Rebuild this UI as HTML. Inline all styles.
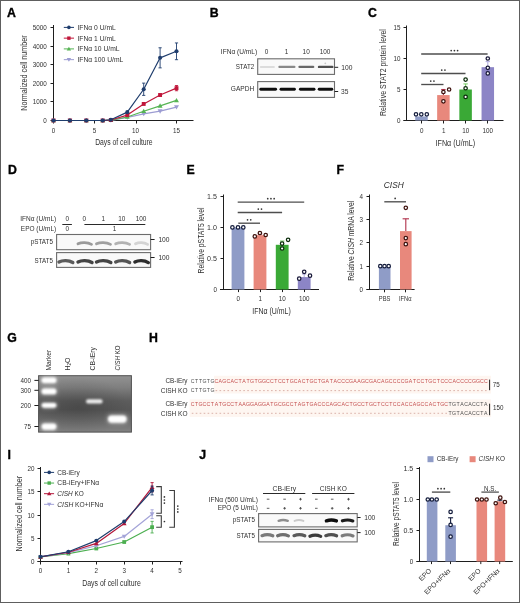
<!DOCTYPE html>
<html><head><meta charset="utf-8"><title>Figure</title>
<style>
html,body{margin:0;padding:0;background:#fff;width:520px;height:603px;overflow:hidden;}
svg{display:block;font-family:"Liberation Sans", sans-serif;filter:blur(0.3px);}
</style></head><body>
<svg width="520" height="603" viewBox="0 0 520 603" font-family='"Liberation Sans", sans-serif'>
<defs><filter id="bl5" filterUnits="userSpaceOnUse" x="0" y="0" width="520" height="603"><feGaussianBlur stdDeviation="0.5"/></filter><filter id="bl7" filterUnits="userSpaceOnUse" x="0" y="0" width="520" height="603"><feGaussianBlur stdDeviation="0.7"/></filter><linearGradient id="gelv" x1="0" y1="0" x2="0" y2="1">
<stop offset="0" stop-color="#929292"/><stop offset="0.2" stop-color="#808080"/>
<stop offset="0.45" stop-color="#5c5c5c"/><stop offset="0.6" stop-color="#575757"/>
<stop offset="0.8" stop-color="#6c6c6c"/><stop offset="1" stop-color="#828282"/></linearGradient>
<radialGradient id="gelr" cx="0.42" cy="0.55" r="0.55">
<stop offset="0" stop-color="#000" stop-opacity="0.16"/><stop offset="1" stop-color="#000" stop-opacity="0"/></radialGradient>
<filter id="blg" x="-30%" y="-80%" width="160%" height="260%"><feGaussianBlur stdDeviation="0.8"/></filter>
<filter id="blg2" x="-50%" y="-150%" width="200%" height="400%"><feGaussianBlur stdDeviation="2.2"/></filter></defs>
<rect x="0.5" y="0.5" width="519" height="602" fill="#fff" stroke="#5e5e5e" stroke-width="1" />
<text x="7.1" y="17.10" font-size="12.3" fill="#000" font-weight="bold" stroke="#000" stroke-width="0.35">A</text>
<line x1="53.5" y1="25.0" x2="53.5" y2="123.5" stroke="#1e1e1e" stroke-width="1.0" />
<line x1="50.5" y1="120.5" x2="53.5" y2="120.5" stroke="#1e1e1e" stroke-width="1.0" />
<text x="46.8" y="122.60" font-size="6.7" fill="#303030" text-anchor="end" textLength="3.5" lengthAdjust="spacingAndGlyphs" >0</text>
<line x1="50.5" y1="101.5" x2="53.5" y2="101.5" stroke="#1e1e1e" stroke-width="1.0" />
<text x="46.8" y="103.60" font-size="6.7" fill="#303030" text-anchor="end" textLength="14.01" lengthAdjust="spacingAndGlyphs" >1000</text>
<line x1="50.5" y1="83.5" x2="53.5" y2="83.5" stroke="#1e1e1e" stroke-width="1.0" />
<text x="46.8" y="85.60" font-size="6.7" fill="#303030" text-anchor="end" textLength="14.01" lengthAdjust="spacingAndGlyphs" >2000</text>
<line x1="50.5" y1="64.5" x2="53.5" y2="64.5" stroke="#1e1e1e" stroke-width="1.0" />
<text x="46.8" y="66.60" font-size="6.7" fill="#303030" text-anchor="end" textLength="14.01" lengthAdjust="spacingAndGlyphs" >3000</text>
<line x1="50.5" y1="46.5" x2="53.5" y2="46.5" stroke="#1e1e1e" stroke-width="1.0" />
<text x="46.8" y="48.60" font-size="6.7" fill="#303030" text-anchor="end" textLength="14.01" lengthAdjust="spacingAndGlyphs" >4000</text>
<line x1="50.5" y1="27.5" x2="53.5" y2="27.5" stroke="#1e1e1e" stroke-width="1.0" />
<text x="46.8" y="29.60" font-size="6.7" fill="#303030" text-anchor="end" textLength="14.01" lengthAdjust="spacingAndGlyphs" >5000</text>
<line x1="51.0" y1="120.5" x2="193.5" y2="120.5" stroke="#1e1e1e" stroke-width="1.0" />
<line x1="94.5" y1="120.5" x2="94.5" y2="123.5" stroke="#1e1e1e" stroke-width="1" />
<line x1="136.5" y1="120.5" x2="136.5" y2="123.5" stroke="#1e1e1e" stroke-width="1" />
<line x1="176.5" y1="120.5" x2="176.5" y2="123.5" stroke="#1e1e1e" stroke-width="1" />
<text x="53.5" y="133.00" font-size="6.7" fill="#303030" text-anchor="middle" textLength="3.5" lengthAdjust="spacingAndGlyphs" >0</text>
<text x="94.5" y="133.00" font-size="6.7" fill="#303030" text-anchor="middle" textLength="3.5" lengthAdjust="spacingAndGlyphs" >5</text>
<text x="135.5" y="133.00" font-size="6.7" fill="#303030" text-anchor="middle" textLength="7.0" lengthAdjust="spacingAndGlyphs" >10</text>
<text x="176.5" y="133.00" font-size="6.7" fill="#303030" text-anchor="middle" textLength="7.0" lengthAdjust="spacingAndGlyphs" >15</text>
<text x="123.9" y="144.94" font-size="8.5" fill="#303030" text-anchor="middle" textLength="57.5" lengthAdjust="spacingAndGlyphs" >Days of cell culture</text>
<text transform="translate(24.4,73.0) rotate(-90)" x="0" y="3.04" font-size="8.5" fill="#303030" text-anchor="middle" textLength="75.5" lengthAdjust="spacingAndGlyphs" >Normalized cell number</text>
<polyline points="53.50,120.50 69.90,120.50 86.30,120.50 102.70,120.50 110.90,120.31 127.30,117.52 143.70,113.80 160.10,111.20 176.50,107.11" fill="none" stroke="#9c9cd2" stroke-width="1.2" stroke-linejoin="round"/>
<polygon points="51.02,118.64 55.98,118.64 53.50,122.98" fill="#9c9cd2"/>
<polygon points="67.42,118.64 72.38,118.64 69.90,122.98" fill="#9c9cd2"/>
<polygon points="83.82,118.64 88.78,118.64 86.30,122.98" fill="#9c9cd2"/>
<polygon points="100.22,118.64 105.18,118.64 102.70,122.98" fill="#9c9cd2"/>
<polygon points="108.42,118.45 113.38,118.45 110.90,122.80" fill="#9c9cd2"/>
<polygon points="124.82,115.66 129.78,115.66 127.30,120.01" fill="#9c9cd2"/>
<polygon points="141.22,111.94 146.18,111.94 143.70,116.29" fill="#9c9cd2"/>
<polygon points="157.62,109.34 162.58,109.34 160.10,113.68" fill="#9c9cd2"/>
<polygon points="174.02,105.25 178.98,105.25 176.50,109.59" fill="#9c9cd2"/>
<polyline points="53.50,120.50 69.90,120.50 86.30,120.50 102.70,120.50 110.90,120.22 127.30,116.97 143.70,111.20 160.10,105.81 176.50,100.41" fill="none" stroke="#56b454" stroke-width="1.2" stroke-linejoin="round"/>
<polygon points="51.02,122.36 55.98,122.36 53.50,118.02" fill="#56b454"/>
<polygon points="67.42,122.36 72.38,122.36 69.90,118.02" fill="#56b454"/>
<polygon points="83.82,122.36 88.78,122.36 86.30,118.02" fill="#56b454"/>
<polygon points="100.22,122.36 105.18,122.36 102.70,118.02" fill="#56b454"/>
<polygon points="108.42,122.08 113.38,122.08 110.90,117.74" fill="#56b454"/>
<polygon points="124.82,118.83 129.78,118.83 127.30,114.48" fill="#56b454"/>
<polygon points="141.22,113.06 146.18,113.06 143.70,108.72" fill="#56b454"/>
<polygon points="157.62,107.67 162.58,107.67 160.10,103.32" fill="#56b454"/>
<polygon points="174.02,102.28 178.98,102.28 176.50,97.93" fill="#56b454"/>
<polyline points="53.50,120.50 69.90,120.50 86.30,120.50 102.70,120.50 110.90,120.03 127.30,115.11 143.70,103.95 160.10,95.02 176.50,88.14" fill="none" stroke="#c0163a" stroke-width="1.2" stroke-linejoin="round"/>
<line x1="160.1" y1="93.9" x2="160.1" y2="96.13" stroke="#c0163a" stroke-width="0.9" />
<line x1="158.5" y1="93.9" x2="161.7" y2="93.9" stroke="#c0163a" stroke-width="0.9" />
<line x1="158.5" y1="96.13" x2="161.7" y2="96.13" stroke="#c0163a" stroke-width="0.9" />
<line x1="176.5" y1="85.53" x2="176.5" y2="90.74" stroke="#c0163a" stroke-width="0.9" />
<line x1="174.9" y1="85.53" x2="178.1" y2="85.53" stroke="#c0163a" stroke-width="0.9" />
<line x1="174.9" y1="90.74" x2="178.1" y2="90.74" stroke="#c0163a" stroke-width="0.9" />
<rect x="51.56" y="118.56" width="3.89" height="3.89" fill="#c0163a" />
<rect x="67.96" y="118.56" width="3.89" height="3.89" fill="#c0163a" />
<rect x="84.36" y="118.56" width="3.89" height="3.89" fill="#c0163a" />
<rect x="100.76" y="118.56" width="3.89" height="3.89" fill="#c0163a" />
<rect x="108.96" y="118.09" width="3.89" height="3.89" fill="#c0163a" />
<rect x="125.36" y="113.16" width="3.89" height="3.89" fill="#c0163a" />
<rect x="141.76" y="102.0" width="3.89" height="3.89" fill="#c0163a" />
<rect x="158.16" y="93.07" width="3.89" height="3.89" fill="#c0163a" />
<rect x="174.56" y="86.19" width="3.89" height="3.89" fill="#c0163a" />
<polyline points="53.50,120.50 69.90,120.50 86.30,120.50 102.70,120.50 110.90,119.76 127.30,112.13 143.70,89.25 160.10,57.82 176.50,51.31" fill="none" stroke="#1f3d6d" stroke-width="1.2" stroke-linejoin="round"/>
<line x1="143.7" y1="83.11" x2="143.7" y2="95.39" stroke="#1f3d6d" stroke-width="0.9" />
<line x1="142.1" y1="83.11" x2="145.3" y2="83.11" stroke="#1f3d6d" stroke-width="0.9" />
<line x1="142.1" y1="95.39" x2="145.3" y2="95.39" stroke="#1f3d6d" stroke-width="0.9" />
<line x1="160.1" y1="47.77" x2="160.1" y2="67.86" stroke="#1f3d6d" stroke-width="0.9" />
<line x1="158.5" y1="47.77" x2="161.7" y2="47.77" stroke="#1f3d6d" stroke-width="0.9" />
<line x1="158.5" y1="67.86" x2="161.7" y2="67.86" stroke="#1f3d6d" stroke-width="0.9" />
<line x1="176.5" y1="42.94" x2="176.5" y2="59.68" stroke="#1f3d6d" stroke-width="0.9" />
<line x1="174.9" y1="42.94" x2="178.1" y2="42.94" stroke="#1f3d6d" stroke-width="0.9" />
<line x1="174.9" y1="59.68" x2="178.1" y2="59.68" stroke="#1f3d6d" stroke-width="0.9" />
<circle cx="53.50" cy="120.50" r="2.052" fill="#1f3d6d"/>
<circle cx="69.90" cy="120.50" r="2.052" fill="#1f3d6d"/>
<circle cx="86.30" cy="120.50" r="2.052" fill="#1f3d6d"/>
<circle cx="102.70" cy="120.50" r="2.052" fill="#1f3d6d"/>
<circle cx="110.90" cy="119.76" r="2.052" fill="#1f3d6d"/>
<circle cx="127.30" cy="112.13" r="2.052" fill="#1f3d6d"/>
<circle cx="143.70" cy="89.25" r="2.052" fill="#1f3d6d"/>
<circle cx="160.10" cy="57.82" r="2.052" fill="#1f3d6d"/>
<circle cx="176.50" cy="51.31" r="2.052" fill="#1f3d6d"/>
<line x1="63.8" y1="27.4" x2="74" y2="27.4" stroke="#1f3d6d" stroke-width="1.0" />
<circle cx="68.90" cy="27.40" r="1.805" fill="#1f3d6d"/>
<text x="77.5" y="29.76" font-size="6.6" fill="#303030" textLength="38.3" lengthAdjust="spacingAndGlyphs" >IFNα 0 U/mL</text>
<line x1="63.8" y1="38.15" x2="74" y2="38.15" stroke="#c0163a" stroke-width="1.0" />
<rect x="67.19" y="36.44" width="3.42" height="3.42" fill="#c0163a" />
<text x="77.5" y="40.51" font-size="6.6" fill="#303030" textLength="38.3" lengthAdjust="spacingAndGlyphs" >IFNα 1 U/mL</text>
<line x1="63.8" y1="48.9" x2="74" y2="48.9" stroke="#56b454" stroke-width="1.0" />
<polygon points="66.72,50.54 71.09,50.54 68.90,46.71" fill="#56b454"/>
<text x="77.5" y="51.26" font-size="6.6" fill="#303030" textLength="42.05" lengthAdjust="spacingAndGlyphs" >IFNα 10 U/mL</text>
<line x1="63.8" y1="59.65" x2="74" y2="59.65" stroke="#9c9cd2" stroke-width="1.0" />
<polygon points="66.72,58.01 71.09,58.01 68.90,61.84" fill="#9c9cd2"/>
<text x="77.5" y="62.01" font-size="6.6" fill="#303030" textLength="45.79" lengthAdjust="spacingAndGlyphs" >IFNα 100 U/mL</text>
<text x="209.8" y="17.10" font-size="12.3" fill="#000" font-weight="bold" stroke="#000" stroke-width="0.35">B</text>
<text x="257.2" y="53.81" font-size="7.0" fill="#303030" text-anchor="end" textLength="36.4" lengthAdjust="spacingAndGlyphs" >IFNα (U/mL)</text>
<text x="266.6" y="54.01" font-size="7.0" fill="#303030" text-anchor="middle" textLength="3.58" lengthAdjust="spacingAndGlyphs" >0</text>
<text x="286.5" y="54.01" font-size="7.0" fill="#303030" text-anchor="middle" textLength="3.58" lengthAdjust="spacingAndGlyphs" >1</text>
<text x="306.2" y="54.01" font-size="7.0" fill="#303030" text-anchor="middle" textLength="7.16" lengthAdjust="spacingAndGlyphs" >10</text>
<text x="325.0" y="54.01" font-size="7.0" fill="#303030" text-anchor="middle" textLength="10.74" lengthAdjust="spacingAndGlyphs" >100</text>
<text x="254.2" y="69.14" font-size="7.1" fill="#303030" text-anchor="end" textLength="18.5" lengthAdjust="spacingAndGlyphs" >STAT2</text>
<text x="254.2" y="91.14" font-size="7.1" fill="#303030" text-anchor="end" textLength="23.4" lengthAdjust="spacingAndGlyphs" >GAPDH</text>
<rect x="257.7" y="58.8" width="76.8" height="15.6" fill="#f9f9f9" stroke="#6c6c6c" stroke-width="1.1" />
<rect x="257.7" y="81.6" width="76.8" height="15.8" fill="#f9f9f9" stroke="#6c6c6c" stroke-width="1.1" />
<line x1="260.8" y1="66.9" x2="273.9" y2="66.9" stroke="#dcdcdc" stroke-width="2.0" stroke-linecap="round" filter="url(#bl5)"/>
<line x1="279.40000000000003" y1="66.9" x2="294.4" y2="66.9" stroke="#888" stroke-width="2.2" stroke-linecap="round" filter="url(#bl5)"/>
<line x1="299.5" y1="66.9" x2="313.2" y2="66.9" stroke="#686868" stroke-width="2.3" stroke-linecap="round" filter="url(#bl5)"/>
<line x1="319.0" y1="66.9" x2="332.29999999999995" y2="66.9" stroke="#505050" stroke-width="2.4" stroke-linecap="round" filter="url(#bl5)"/>
<circle cx="325.3" cy="63.3" r="0.9" fill="#c8c8c8" filter="url(#bl5)"/>
<line x1="260.8" y1="89.3" x2="275.59999999999997" y2="89.3" stroke="#0a0a0a" stroke-width="2.9" stroke-linecap="round" filter="url(#bl5)"/>
<line x1="281.0" y1="89.3" x2="294.4" y2="89.3" stroke="#0a0a0a" stroke-width="2.9" stroke-linecap="round" filter="url(#bl5)"/>
<line x1="300.40000000000003" y1="89.3" x2="314.0" y2="89.3" stroke="#0a0a0a" stroke-width="2.9" stroke-linecap="round" filter="url(#bl5)"/>
<line x1="319.2" y1="89.3" x2="331.8" y2="89.3" stroke="#0a0a0a" stroke-width="2.9" stroke-linecap="round" filter="url(#bl5)"/>
<line x1="334.6" y1="67.3" x2="338.2" y2="67.3" stroke="#1e1e1e" stroke-width="1" />
<line x1="334.6" y1="91.5" x2="338.2" y2="91.5" stroke="#1e1e1e" stroke-width="1" />
<text x="341.3" y="70.45" font-size="7.4" fill="#303030" textLength="11.11" lengthAdjust="spacingAndGlyphs" >100</text>
<text x="341.0" y="94.25" font-size="7.4" fill="#303030" textLength="7.41" lengthAdjust="spacingAndGlyphs" >35</text>
<text x="368.1" y="17.10" font-size="12.3" fill="#000" font-weight="bold" stroke="#000" stroke-width="0.35">C</text>
<line x1="406.5" y1="25.5" x2="406.5" y2="120.5" stroke="#1e1e1e" stroke-width="1.0" />
<line x1="403.5" y1="120.5" x2="406.5" y2="120.5" stroke="#1e1e1e" stroke-width="1.0" />
<text x="400.4" y="122.60" font-size="6.7" fill="#303030" text-anchor="end" textLength="3.5" lengthAdjust="spacingAndGlyphs" >0</text>
<line x1="403.5" y1="89.5" x2="406.5" y2="89.5" stroke="#1e1e1e" stroke-width="1.0" />
<text x="400.4" y="91.60" font-size="6.7" fill="#303030" text-anchor="end" textLength="3.5" lengthAdjust="spacingAndGlyphs" >5</text>
<line x1="403.5" y1="58.5" x2="406.5" y2="58.5" stroke="#1e1e1e" stroke-width="1.0" />
<text x="400.4" y="60.60" font-size="6.7" fill="#303030" text-anchor="end" textLength="7.0" lengthAdjust="spacingAndGlyphs" >10</text>
<line x1="403.5" y1="27.5" x2="406.5" y2="27.5" stroke="#1e1e1e" stroke-width="1.0" />
<text x="400.4" y="29.60" font-size="6.7" fill="#303030" text-anchor="end" textLength="7.0" lengthAdjust="spacingAndGlyphs" >15</text>
<line x1="403.5" y1="120.5" x2="503.5" y2="120.5" stroke="#1e1e1e" stroke-width="1.0" />
<rect x="415.25" y="116.47" width="12.5" height="4.03" fill="#8f9cc7" />
<circle cx="416.00" cy="114.30" r="1.72" fill="#fff" stroke="#141c3c" stroke-width="1.25"/>
<circle cx="421.30" cy="114.30" r="1.72" fill="#fff" stroke="#141c3c" stroke-width="1.25"/>
<circle cx="426.80" cy="114.30" r="1.72" fill="#fff" stroke="#141c3c" stroke-width="1.25"/>
<rect x="437.15" y="95.08" width="12.5" height="25.42" fill="#e8887c" />
<line x1="443.4" y1="95.08" x2="443.4" y2="89.5" stroke="#b0304a" stroke-width="1.1" />
<line x1="441.2" y1="89.5" x2="445.59999999999997" y2="89.5" stroke="#b0304a" stroke-width="1.1" />
<circle cx="443.40" cy="101.28" r="1.72" fill="#fff" stroke="#3e120e" stroke-width="1.25"/>
<circle cx="443.40" cy="91.98" r="1.72" fill="#fff" stroke="#3e120e" stroke-width="1.25"/>
<circle cx="449.10" cy="89.50" r="1.72" fill="#fff" stroke="#3e120e" stroke-width="1.25"/>
<rect x="459.35" y="89.5" width="12.5" height="31.0" fill="#3aa936" />
<line x1="465.6" y1="89.5" x2="465.6" y2="83.92" stroke="#7acc6a" stroke-width="1.1" />
<line x1="463.40000000000003" y1="83.92" x2="467.8" y2="83.92" stroke="#7acc6a" stroke-width="1.1" />
<circle cx="465.60" cy="79.58" r="1.72" fill="#fff" stroke="#0a2c0a" stroke-width="1.25"/>
<circle cx="465.60" cy="88.26" r="1.72" fill="#fff" stroke="#0a2c0a" stroke-width="1.25"/>
<circle cx="465.60" cy="96.94" r="1.72" fill="#fff" stroke="#0a2c0a" stroke-width="1.25"/>
<rect x="481.55" y="67.18" width="12.5" height="53.32" fill="#8c85c6" />
<line x1="487.8" y1="67.18" x2="487.8" y2="61.6" stroke="#b5b0e0" stroke-width="1.1" />
<line x1="485.6" y1="61.6" x2="490.0" y2="61.6" stroke="#b5b0e0" stroke-width="1.1" />
<circle cx="487.80" cy="58.50" r="1.72" fill="#fff" stroke="#181838" stroke-width="1.25"/>
<circle cx="487.80" cy="67.80" r="1.72" fill="#fff" stroke="#181838" stroke-width="1.25"/>
<circle cx="487.80" cy="73.38" r="1.72" fill="#fff" stroke="#181838" stroke-width="1.25"/>
<line x1="421.5" y1="120.5" x2="421.5" y2="123.5" stroke="#1e1e1e" stroke-width="1" />
<text x="421.7" y="132.50" font-size="6.7" fill="#303030" text-anchor="middle" textLength="3.5" lengthAdjust="spacingAndGlyphs" >0</text>
<line x1="443.5" y1="120.5" x2="443.5" y2="123.5" stroke="#1e1e1e" stroke-width="1" />
<text x="443.7" y="132.50" font-size="6.7" fill="#303030" text-anchor="middle" textLength="3.5" lengthAdjust="spacingAndGlyphs" >1</text>
<line x1="465.5" y1="120.5" x2="465.5" y2="123.5" stroke="#1e1e1e" stroke-width="1" />
<text x="465.7" y="132.50" font-size="6.7" fill="#303030" text-anchor="middle" textLength="7.0" lengthAdjust="spacingAndGlyphs" >10</text>
<line x1="487.5" y1="120.5" x2="487.5" y2="123.5" stroke="#1e1e1e" stroke-width="1" />
<text x="487.7" y="132.50" font-size="6.7" fill="#303030" text-anchor="middle" textLength="10.51" lengthAdjust="spacingAndGlyphs" >100</text>
<text x="455.3" y="145.64" font-size="8.5" fill="#303030" text-anchor="middle" textLength="39.5" lengthAdjust="spacingAndGlyphs" >IFNα (U/mL)</text>
<text transform="translate(383.5,72.6) rotate(-90)" x="0" y="2.97" font-size="8.3" fill="#303030" text-anchor="middle" textLength="87" lengthAdjust="spacingAndGlyphs" >Relative STAT2 protein level</text>
<line x1="421.2" y1="84.5" x2="443.5" y2="84.5" stroke="#4e4e4e" stroke-width="1.35" />
<circle cx="430.75" cy="81.10" r="0.85" fill="#333"/>
<circle cx="433.95" cy="81.10" r="0.85" fill="#333"/>
<line x1="421.2" y1="73.5" x2="465.5" y2="73.5" stroke="#4e4e4e" stroke-width="1.35" />
<circle cx="441.75" cy="70.10" r="0.85" fill="#333"/>
<circle cx="444.95" cy="70.10" r="0.85" fill="#333"/>
<line x1="421.2" y1="54.0" x2="487.6" y2="54.0" stroke="#4e4e4e" stroke-width="1.35" />
<circle cx="451.20" cy="50.60" r="0.85" fill="#333"/>
<circle cx="454.40" cy="50.60" r="0.85" fill="#333"/>
<circle cx="457.60" cy="50.60" r="0.85" fill="#333"/>
<text x="8.1" y="173.80" font-size="12.3" fill="#000" font-weight="bold" stroke="#000" stroke-width="0.35">D</text>
<text x="56.2" y="221.11" font-size="7.0" fill="#303030" text-anchor="end" textLength="36.0" lengthAdjust="spacingAndGlyphs" >IFNα (U/mL)</text>
<text x="56.2" y="231.01" font-size="7.0" fill="#303030" text-anchor="end" textLength="35.4" lengthAdjust="spacingAndGlyphs" >EPO (U/mL)</text>
<text x="67.4" y="220.91" font-size="7.0" fill="#303030" text-anchor="middle" textLength="3.58" lengthAdjust="spacingAndGlyphs" >0</text>
<text x="84.3" y="220.91" font-size="7.0" fill="#303030" text-anchor="middle" textLength="3.58" lengthAdjust="spacingAndGlyphs" >0</text>
<text x="103.4" y="220.91" font-size="7.0" fill="#303030" text-anchor="middle" textLength="3.58" lengthAdjust="spacingAndGlyphs" >1</text>
<text x="121.8" y="220.91" font-size="7.0" fill="#303030" text-anchor="middle" textLength="7.16" lengthAdjust="spacingAndGlyphs" >10</text>
<text x="141.0" y="220.91" font-size="7.0" fill="#303030" text-anchor="middle" textLength="10.74" lengthAdjust="spacingAndGlyphs" >100</text>
<line x1="62.3" y1="224.5" x2="71.9" y2="224.5" stroke="#2a2a2a" stroke-width="1.0" />
<line x1="84.4" y1="224.5" x2="145.3" y2="224.5" stroke="#2a2a2a" stroke-width="1.0" />
<text x="67.4" y="231.41" font-size="7.0" fill="#303030" text-anchor="middle" textLength="3.58" lengthAdjust="spacingAndGlyphs" >0</text>
<text x="114.6" y="231.41" font-size="7.0" fill="#303030" text-anchor="middle" textLength="3.58" lengthAdjust="spacingAndGlyphs" >1</text>
<text x="52.9" y="243.81" font-size="7.0" fill="#303030" text-anchor="end" textLength="22.2" lengthAdjust="spacingAndGlyphs" >pSTAT5</text>
<text x="52.9" y="262.51" font-size="7.0" fill="#303030" text-anchor="end" textLength="18.4" lengthAdjust="spacingAndGlyphs" >STAT5</text>
<rect x="56.6" y="234.5" width="94.0" height="15.2" fill="#f9f9f9" stroke="#6c6c6c" stroke-width="1.1" />
<rect x="56.6" y="252.6" width="94.0" height="14.8" fill="#f9f9f9" stroke="#6c6c6c" stroke-width="1.1" />
<path d="M78.00,243.83 C81.38,242.15 87.45,242.01 91.50,244.39" fill="none" stroke="#9a9a9a" stroke-width="2.8" stroke-linecap="round" filter="url(#bl5)"/>
<path d="M96.50,243.83 C100.00,242.15 106.30,242.01 110.50,244.39" fill="none" stroke="#a0a0a0" stroke-width="2.8" stroke-linecap="round" filter="url(#bl5)"/>
<path d="M115.70,243.83 C119.17,242.15 125.43,242.01 129.60,244.39" fill="none" stroke="#b2b2b2" stroke-width="2.8" stroke-linecap="round" filter="url(#bl5)"/>
<path d="M135.50,243.83 C138.53,242.15 143.97,242.01 147.60,244.39" fill="none" stroke="#d4d4d4" stroke-width="2.8" stroke-linecap="round" filter="url(#bl5)"/>
<path d="M59.00,261.98 C62.45,260.18 68.66,260.03 72.80,262.57" fill="none" stroke="#5c5c5c" stroke-width="3.4" stroke-linecap="round" filter="url(#bl5)"/>
<path d="M78.00,261.98 C81.50,260.18 87.80,260.03 92.00,262.57" fill="none" stroke="#444" stroke-width="3.4" stroke-linecap="round" filter="url(#bl5)"/>
<path d="M96.50,261.98 C100.08,260.18 106.51,260.03 110.80,262.57" fill="none" stroke="#444" stroke-width="3.4" stroke-linecap="round" filter="url(#bl5)"/>
<path d="M115.70,261.98 C119.17,260.18 125.43,260.03 129.60,262.57" fill="none" stroke="#555" stroke-width="3.4" stroke-linecap="round" filter="url(#bl5)"/>
<path d="M134.90,261.98 C138.25,260.18 144.28,260.03 148.30,262.57" fill="none" stroke="#2e2e2e" stroke-width="3.4" stroke-linecap="round" filter="url(#bl5)"/>
<line x1="150.6" y1="239.5" x2="154.6" y2="239.5" stroke="#1e1e1e" stroke-width="1" />
<line x1="150.6" y1="257.5" x2="154.6" y2="257.5" stroke="#1e1e1e" stroke-width="1" />
<text x="158.4" y="242.25" font-size="7.4" fill="#303030" textLength="11.11" lengthAdjust="spacingAndGlyphs" >100</text>
<text x="158.4" y="259.85" font-size="7.4" fill="#303030" textLength="11.11" lengthAdjust="spacingAndGlyphs" >100</text>
<text x="186.4" y="173.80" font-size="12.3" fill="#000" font-weight="bold" stroke="#000" stroke-width="0.35">E</text>
<line x1="223.5" y1="194.5" x2="223.5" y2="289.5" stroke="#1e1e1e" stroke-width="1.0" />
<line x1="220.5" y1="289.5" x2="223.5" y2="289.5" stroke="#1e1e1e" stroke-width="1.0" />
<text x="217.0" y="291.60" font-size="6.7" fill="#303030" text-anchor="end" textLength="3.5" lengthAdjust="spacingAndGlyphs" >0</text>
<line x1="220.5" y1="258.5" x2="223.5" y2="258.5" stroke="#1e1e1e" stroke-width="1.0" />
<text x="217.0" y="260.60" font-size="6.7" fill="#303030" text-anchor="end" textLength="9.87" lengthAdjust="spacingAndGlyphs" >0.5</text>
<line x1="220.5" y1="227.5" x2="223.5" y2="227.5" stroke="#1e1e1e" stroke-width="1.0" />
<text x="217.0" y="229.60" font-size="6.7" fill="#303030" text-anchor="end" textLength="9.87" lengthAdjust="spacingAndGlyphs" >1.0</text>
<line x1="220.5" y1="196.5" x2="223.5" y2="196.5" stroke="#1e1e1e" stroke-width="1.0" />
<text x="217.0" y="198.60" font-size="6.7" fill="#303030" text-anchor="end" textLength="9.87" lengthAdjust="spacingAndGlyphs" >1.5</text>
<line x1="220.0" y1="289.5" x2="319.0" y2="289.5" stroke="#1e1e1e" stroke-width="1.0" />
<rect x="231.6" y="227.4" width="12.8" height="62.1" fill="#8f9cc7" />
<circle cx="232.40" cy="227.40" r="1.72" fill="#fff" stroke="#141c3c" stroke-width="1.25"/>
<circle cx="238.00" cy="227.40" r="1.72" fill="#fff" stroke="#141c3c" stroke-width="1.25"/>
<circle cx="243.30" cy="227.40" r="1.72" fill="#fff" stroke="#141c3c" stroke-width="1.25"/>
<rect x="253.6" y="235.16" width="12.8" height="54.34" fill="#e8887c" />
<line x1="260.0" y1="235.16" x2="260.0" y2="233.92" stroke="#b0304a" stroke-width="1.1" />
<line x1="257.8" y1="233.92" x2="262.2" y2="233.92" stroke="#b0304a" stroke-width="1.1" />
<circle cx="254.80" cy="236.40" r="1.72" fill="#fff" stroke="#3e120e" stroke-width="1.25"/>
<circle cx="259.90" cy="232.99" r="1.72" fill="#fff" stroke="#3e120e" stroke-width="1.25"/>
<circle cx="265.70" cy="234.98" r="1.72" fill="#fff" stroke="#3e120e" stroke-width="1.25"/>
<rect x="275.8" y="244.79" width="12.8" height="44.71" fill="#3aa936" />
<line x1="282.2" y1="244.79" x2="282.2" y2="241.06" stroke="#7acc6a" stroke-width="1.1" />
<line x1="280.0" y1="241.06" x2="284.4" y2="241.06" stroke="#7acc6a" stroke-width="1.1" />
<circle cx="282.10" cy="243.55" r="1.72" fill="#fff" stroke="#0a2c0a" stroke-width="1.25"/>
<circle cx="282.10" cy="248.51" r="1.72" fill="#fff" stroke="#0a2c0a" stroke-width="1.25"/>
<circle cx="288.10" cy="239.82" r="1.72" fill="#fff" stroke="#0a2c0a" stroke-width="1.25"/>
<rect x="297.8" y="277.08" width="12.8" height="12.42" fill="#8c85c6" />
<line x1="304.2" y1="277.08" x2="304.2" y2="273.98" stroke="#b5b0e0" stroke-width="1.1" />
<line x1="302.0" y1="273.98" x2="306.4" y2="273.98" stroke="#b5b0e0" stroke-width="1.1" />
<circle cx="299.20" cy="278.63" r="1.72" fill="#fff" stroke="#181838" stroke-width="1.25"/>
<circle cx="304.20" cy="271.80" r="1.72" fill="#fff" stroke="#181838" stroke-width="1.25"/>
<circle cx="310.00" cy="275.71" r="1.72" fill="#fff" stroke="#181838" stroke-width="1.25"/>
<line x1="238.5" y1="289.5" x2="238.5" y2="292.1" stroke="#1e1e1e" stroke-width="1" />
<text x="238.2" y="301.20" font-size="6.7" fill="#303030" text-anchor="middle" textLength="3.5" lengthAdjust="spacingAndGlyphs" >0</text>
<line x1="260.5" y1="289.5" x2="260.5" y2="292.1" stroke="#1e1e1e" stroke-width="1" />
<text x="260.2" y="301.20" font-size="6.7" fill="#303030" text-anchor="middle" textLength="3.5" lengthAdjust="spacingAndGlyphs" >1</text>
<line x1="282.5" y1="289.5" x2="282.5" y2="292.1" stroke="#1e1e1e" stroke-width="1" />
<text x="282.2" y="301.20" font-size="6.7" fill="#303030" text-anchor="middle" textLength="7.0" lengthAdjust="spacingAndGlyphs" >10</text>
<line x1="304.5" y1="289.5" x2="304.5" y2="292.1" stroke="#1e1e1e" stroke-width="1" />
<text x="304.2" y="301.20" font-size="6.7" fill="#303030" text-anchor="middle" textLength="10.51" lengthAdjust="spacingAndGlyphs" >100</text>
<text x="271.5" y="313.94" font-size="8.5" fill="#303030" text-anchor="middle" textLength="38.5" lengthAdjust="spacingAndGlyphs" >IFNα (U/mL)</text>
<text transform="translate(200.8,240.5) rotate(-90)" x="0" y="2.97" font-size="8.3" fill="#303030" text-anchor="middle" textLength="66" lengthAdjust="spacingAndGlyphs" >Relative pSTAT5 level</text>
<line x1="238.3" y1="223.2" x2="260.0" y2="223.2" stroke="#4e4e4e" stroke-width="1.35" />
<circle cx="247.55" cy="219.80" r="0.85" fill="#333"/>
<circle cx="250.75" cy="219.80" r="0.85" fill="#333"/>
<line x1="237.7" y1="212.5" x2="282.1" y2="212.5" stroke="#4e4e4e" stroke-width="1.35" />
<circle cx="258.30" cy="209.10" r="0.85" fill="#333"/>
<circle cx="261.50" cy="209.10" r="0.85" fill="#333"/>
<line x1="237.7" y1="202.1" x2="304.2" y2="202.1" stroke="#4e4e4e" stroke-width="1.35" />
<circle cx="267.75" cy="198.70" r="0.85" fill="#333"/>
<circle cx="270.95" cy="198.70" r="0.85" fill="#333"/>
<circle cx="274.15" cy="198.70" r="0.85" fill="#333"/>
<text x="336.4" y="173.80" font-size="12.3" fill="#000" font-weight="bold" stroke="#000" stroke-width="0.35">F</text>
<text x="393.8" y="188.28" font-size="8.6" fill="#303030" text-anchor="middle" font-style="italic" textLength="20" lengthAdjust="spacingAndGlyphs" >CISH</text>
<line x1="369.5" y1="194.5" x2="369.5" y2="289.5" stroke="#1e1e1e" stroke-width="1.0" />
<line x1="366.5" y1="289.5" x2="369.5" y2="289.5" stroke="#1e1e1e" stroke-width="1.0" />
<text x="362.9" y="291.60" font-size="6.7" fill="#303030" text-anchor="end" textLength="3.5" lengthAdjust="spacingAndGlyphs" >0</text>
<line x1="366.5" y1="266.5" x2="369.5" y2="266.5" stroke="#1e1e1e" stroke-width="1.0" />
<text x="362.9" y="268.60" font-size="6.7" fill="#303030" text-anchor="end" textLength="3.5" lengthAdjust="spacingAndGlyphs" >1</text>
<line x1="366.5" y1="242.5" x2="369.5" y2="242.5" stroke="#1e1e1e" stroke-width="1.0" />
<text x="362.9" y="244.60" font-size="6.7" fill="#303030" text-anchor="end" textLength="3.5" lengthAdjust="spacingAndGlyphs" >2</text>
<line x1="366.5" y1="219.5" x2="369.5" y2="219.5" stroke="#1e1e1e" stroke-width="1.0" />
<text x="362.9" y="221.60" font-size="6.7" fill="#303030" text-anchor="end" textLength="3.5" lengthAdjust="spacingAndGlyphs" >3</text>
<line x1="366.5" y1="196.5" x2="369.5" y2="196.5" stroke="#1e1e1e" stroke-width="1.0" />
<text x="362.9" y="198.60" font-size="6.7" fill="#303030" text-anchor="end" textLength="3.5" lengthAdjust="spacingAndGlyphs" >4</text>
<line x1="366.5" y1="289.5" x2="414.6" y2="289.5" stroke="#1e1e1e" stroke-width="1.0" />
<rect x="378.9" y="266.15" width="11.6" height="23.35" fill="#8f9cc7" />
<circle cx="380.30" cy="266.15" r="1.72" fill="#fff" stroke="#141c3c" stroke-width="1.25"/>
<circle cx="384.50" cy="266.15" r="1.72" fill="#fff" stroke="#141c3c" stroke-width="1.25"/>
<circle cx="388.70" cy="266.15" r="1.72" fill="#fff" stroke="#141c3c" stroke-width="1.25"/>
<rect x="400.0" y="231.12" width="11.6" height="58.38" fill="#e8887c" />
<line x1="405.8" y1="231.12" x2="405.8" y2="218.8" stroke="#b0304a" stroke-width="1.1" />
<line x1="402.6" y1="218.8" x2="409.0" y2="218.8" stroke="#b0304a" stroke-width="1.1" />
<circle cx="405.80" cy="207.80" r="1.72" fill="#fff" stroke="#3e120e" stroke-width="1.25"/>
<circle cx="405.80" cy="238.10" r="1.72" fill="#fff" stroke="#3e120e" stroke-width="1.25"/>
<circle cx="405.80" cy="244.20" r="1.72" fill="#fff" stroke="#3e120e" stroke-width="1.25"/>
<line x1="384.3" y1="201.8" x2="406.0" y2="201.8" stroke="#4e4e4e" stroke-width="1.35" />
<circle cx="395.15" cy="198.40" r="0.85" fill="#333"/>
<line x1="384.5" y1="289.5" x2="384.5" y2="292.3" stroke="#1e1e1e" stroke-width="1" />
<line x1="405.5" y1="289.5" x2="405.5" y2="292.3" stroke="#1e1e1e" stroke-width="1" />
<text x="384.6" y="301.33" font-size="6.8" fill="#303030" text-anchor="middle" textLength="11.6" lengthAdjust="spacingAndGlyphs" >PBS</text>
<text x="405.2" y="301.33" font-size="6.8" fill="#303030" text-anchor="middle" textLength="12.6" lengthAdjust="spacingAndGlyphs" >IFNα</text>
<text transform="translate(350.6,240.8) rotate(-90)" x="0" y="2.97" font-size="8.3" fill="#303030" text-anchor="middle" textLength="80" lengthAdjust="spacingAndGlyphs" >Relative <tspan font-style="italic">CISH</tspan> mRNA level</text>
<text x="7.3" y="342.30" font-size="12.3" fill="#000" font-weight="bold" stroke="#000" stroke-width="0.35">G</text>
<rect x="38.6" y="375.7" width="92.8" height="56.4" fill="url(#gelv)" stroke="#505050" stroke-width="1" />
<rect x="39.1" y="376.2" width="91.8" height="55.4" fill="url(#gelr)" />
<rect x="41.0" y="376.50" width="16" height="7.6" rx="3" fill="#fff" opacity="0.35" filter="url(#blg2)"/>
<rect x="41.0" y="387.60" width="16" height="7.6" rx="3" fill="#fff" opacity="0.35" filter="url(#blg2)"/>
<rect x="41.0" y="401.90" width="16" height="6.8" rx="3" fill="#fff" opacity="0.35" filter="url(#blg2)"/>
<rect x="41.0" y="422.50" width="16" height="8.2" rx="3" fill="#fff" opacity="0.35" filter="url(#blg2)"/>
<rect x="107.0" y="414.3" width="20.4" height="9.4" rx="4" fill="#fff" opacity="0.35" filter="url(#blg2)"/>
<rect x="41.6" y="377.50" width="14.8" height="5.6" rx="2.80" fill="#fff" filter="url(#blg)"/>
<rect x="41.6" y="388.60" width="14.8" height="5.6" rx="2.80" fill="#fff" filter="url(#blg)"/>
<rect x="41.6" y="402.90" width="14.8" height="4.8" rx="2.40" fill="#fff" filter="url(#blg)"/>
<rect x="41.6" y="423.50" width="14.8" height="6.2" rx="3.10" fill="#fff" filter="url(#blg)"/>
<rect x="86.0" y="399.3" width="16.6" height="4.3" rx="2.1" fill="#ececec" filter="url(#blg)"/>
<rect x="108.0" y="415.4" width="18.6" height="7.3" rx="3.6" fill="#fff" filter="url(#blg)"/>
<line x1="34.4" y1="380.4" x2="38.6" y2="380.4" stroke="#1e1e1e" stroke-width="1" />
<text x="30.9" y="382.76" font-size="6.6" fill="#303030" text-anchor="end" textLength="10.46" lengthAdjust="spacingAndGlyphs" >400</text>
<line x1="34.4" y1="390.3" x2="38.6" y2="390.3" stroke="#1e1e1e" stroke-width="1" />
<text x="30.9" y="392.66" font-size="6.6" fill="#303030" text-anchor="end" textLength="10.46" lengthAdjust="spacingAndGlyphs" >300</text>
<line x1="34.4" y1="405.5" x2="38.6" y2="405.5" stroke="#1e1e1e" stroke-width="1" />
<text x="30.9" y="407.86" font-size="6.6" fill="#303030" text-anchor="end" textLength="10.46" lengthAdjust="spacingAndGlyphs" >200</text>
<line x1="34.4" y1="426.5" x2="38.6" y2="426.5" stroke="#1e1e1e" stroke-width="1" />
<text x="30.9" y="428.86" font-size="6.6" fill="#303030" text-anchor="end" textLength="6.97" lengthAdjust="spacingAndGlyphs" >75</text>
<text transform="translate(51.0,370.5) rotate(-90)" x="0" y="0.00" font-size="7.0" fill="#303030" textLength="20.7" lengthAdjust="spacingAndGlyphs" >Marker</text>
<text transform="translate(70.0,370.5) rotate(-90)" x="0" y="0.00" font-size="7.0" fill="#303030" >H<tspan font-size="4.6" dy="1.3">2</tspan><tspan dy="-1.3">O</tspan></text>
<text transform="translate(95.1,370.5) rotate(-90)" x="0" y="0.00" font-size="7.0" fill="#303030" textLength="23.3" lengthAdjust="spacingAndGlyphs" >CB-iEry</text>
<text transform="translate(120.2,370.5) rotate(-90)" x="0" y="0.00" font-size="7.0" fill="#303030" textLength="25" lengthAdjust="spacingAndGlyphs" ><tspan font-style="italic">CISH</tspan> KO</text>
<text x="149.0" y="342.30" font-size="12.3" fill="#000" font-weight="bold" stroke="#000" stroke-width="0.35">H</text>
<rect x="214.0" y="375.8" width="277" height="17.7" fill="#fef6f1" />
<rect x="189.6" y="399.4" width="301.4" height="17.6" fill="#fef6f1" />
<text x="187.5" y="383.36" font-size="6.6" fill="#303030" text-anchor="end" textLength="22.0" lengthAdjust="spacingAndGlyphs" >CB-iEry</text>
<text x="187.5" y="392.76" font-size="6.6" fill="#303030" text-anchor="end" textLength="26.8" lengthAdjust="spacingAndGlyphs" >CISH KO</text>
<text x="187.5" y="406.36" font-size="6.6" fill="#303030" text-anchor="end" textLength="22.0" lengthAdjust="spacingAndGlyphs" >CB-iEry</text>
<text x="187.5" y="415.56" font-size="6.6" fill="#303030" text-anchor="end" textLength="26.8" lengthAdjust="spacingAndGlyphs" >CISH KO</text>
<text x="192.58" y="382.86" font-size="5.2" fill="#4e4e4e" text-anchor="middle" >C</text>
<text x="196.54" y="382.86" font-size="5.2" fill="#4e4e4e" text-anchor="middle" >T</text>
<text x="200.51" y="382.86" font-size="5.2" fill="#4e4e4e" text-anchor="middle" >T</text>
<text x="204.47" y="382.86" font-size="5.2" fill="#4e4e4e" text-anchor="middle" >G</text>
<text x="208.43" y="382.86" font-size="5.2" fill="#4e4e4e" text-anchor="middle" >T</text>
<text x="212.4" y="382.86" font-size="5.2" fill="#4e4e4e" text-anchor="middle" >G</text>
<text x="216.36" y="382.86" font-size="5.2" fill="#c44e4e" text-anchor="middle" >C</text>
<text x="220.32" y="382.86" font-size="5.2" fill="#c44e4e" text-anchor="middle" >A</text>
<text x="224.29" y="382.86" font-size="5.2" fill="#c44e4e" text-anchor="middle" >G</text>
<text x="228.25" y="382.86" font-size="5.2" fill="#c44e4e" text-anchor="middle" >C</text>
<text x="232.21" y="382.86" font-size="5.2" fill="#c44e4e" text-anchor="middle" >A</text>
<text x="236.17" y="382.86" font-size="5.2" fill="#c44e4e" text-anchor="middle" >C</text>
<text x="240.14" y="382.86" font-size="5.2" fill="#c44e4e" text-anchor="middle" >T</text>
<text x="244.1" y="382.86" font-size="5.2" fill="#c44e4e" text-anchor="middle" >A</text>
<text x="248.06" y="382.86" font-size="5.2" fill="#c44e4e" text-anchor="middle" >T</text>
<text x="252.03" y="382.86" font-size="5.2" fill="#c44e4e" text-anchor="middle" >G</text>
<text x="255.99" y="382.86" font-size="5.2" fill="#c44e4e" text-anchor="middle" >T</text>
<text x="259.95" y="382.86" font-size="5.2" fill="#c44e4e" text-anchor="middle" >G</text>
<text x="263.92" y="382.86" font-size="5.2" fill="#c44e4e" text-anchor="middle" >G</text>
<text x="267.88" y="382.86" font-size="5.2" fill="#c44e4e" text-anchor="middle" >C</text>
<text x="271.84" y="382.86" font-size="5.2" fill="#c44e4e" text-anchor="middle" >C</text>
<text x="275.8" y="382.86" font-size="5.2" fill="#c44e4e" text-anchor="middle" >T</text>
<text x="279.77" y="382.86" font-size="5.2" fill="#c44e4e" text-anchor="middle" >C</text>
<text x="283.73" y="382.86" font-size="5.2" fill="#c44e4e" text-anchor="middle" >C</text>
<text x="287.69" y="382.86" font-size="5.2" fill="#c44e4e" text-anchor="middle" >T</text>
<text x="291.66" y="382.86" font-size="5.2" fill="#c44e4e" text-anchor="middle" >G</text>
<text x="295.62" y="382.86" font-size="5.2" fill="#c44e4e" text-anchor="middle" >C</text>
<text x="299.58" y="382.86" font-size="5.2" fill="#c44e4e" text-anchor="middle" >A</text>
<text x="303.55" y="382.86" font-size="5.2" fill="#c44e4e" text-anchor="middle" >C</text>
<text x="307.51" y="382.86" font-size="5.2" fill="#c44e4e" text-anchor="middle" >T</text>
<text x="311.47" y="382.86" font-size="5.2" fill="#c44e4e" text-anchor="middle" >G</text>
<text x="315.43" y="382.86" font-size="5.2" fill="#c44e4e" text-anchor="middle" >C</text>
<text x="319.4" y="382.86" font-size="5.2" fill="#c44e4e" text-anchor="middle" >T</text>
<text x="323.36" y="382.86" font-size="5.2" fill="#c44e4e" text-anchor="middle" >G</text>
<text x="327.32" y="382.86" font-size="5.2" fill="#c44e4e" text-anchor="middle" >A</text>
<text x="331.29" y="382.86" font-size="5.2" fill="#c44e4e" text-anchor="middle" >T</text>
<text x="335.25" y="382.86" font-size="5.2" fill="#c44e4e" text-anchor="middle" >A</text>
<text x="339.21" y="382.86" font-size="5.2" fill="#c44e4e" text-anchor="middle" >C</text>
<text x="343.18" y="382.86" font-size="5.2" fill="#c44e4e" text-anchor="middle" >C</text>
<text x="347.14" y="382.86" font-size="5.2" fill="#c44e4e" text-anchor="middle" >C</text>
<text x="351.1" y="382.86" font-size="5.2" fill="#c44e4e" text-anchor="middle" >G</text>
<text x="355.06" y="382.86" font-size="5.2" fill="#c44e4e" text-anchor="middle" >A</text>
<text x="359.03" y="382.86" font-size="5.2" fill="#c44e4e" text-anchor="middle" >A</text>
<text x="362.99" y="382.86" font-size="5.2" fill="#c44e4e" text-anchor="middle" >G</text>
<text x="366.95" y="382.86" font-size="5.2" fill="#c44e4e" text-anchor="middle" >C</text>
<text x="370.92" y="382.86" font-size="5.2" fill="#c44e4e" text-anchor="middle" >G</text>
<text x="374.88" y="382.86" font-size="5.2" fill="#c44e4e" text-anchor="middle" >A</text>
<text x="378.84" y="382.86" font-size="5.2" fill="#c44e4e" text-anchor="middle" >C</text>
<text x="382.81" y="382.86" font-size="5.2" fill="#c44e4e" text-anchor="middle" >A</text>
<text x="386.77" y="382.86" font-size="5.2" fill="#c44e4e" text-anchor="middle" >G</text>
<text x="390.73" y="382.86" font-size="5.2" fill="#c44e4e" text-anchor="middle" >C</text>
<text x="394.69" y="382.86" font-size="5.2" fill="#c44e4e" text-anchor="middle" >C</text>
<text x="398.66" y="382.86" font-size="5.2" fill="#c44e4e" text-anchor="middle" >C</text>
<text x="402.62" y="382.86" font-size="5.2" fill="#c44e4e" text-anchor="middle" >C</text>
<text x="406.58" y="382.86" font-size="5.2" fill="#c44e4e" text-anchor="middle" >G</text>
<text x="410.55" y="382.86" font-size="5.2" fill="#c44e4e" text-anchor="middle" >A</text>
<text x="414.51" y="382.86" font-size="5.2" fill="#c44e4e" text-anchor="middle" >T</text>
<text x="418.47" y="382.86" font-size="5.2" fill="#c44e4e" text-anchor="middle" >C</text>
<text x="422.44" y="382.86" font-size="5.2" fill="#c44e4e" text-anchor="middle" >C</text>
<text x="426.4" y="382.86" font-size="5.2" fill="#c44e4e" text-anchor="middle" >T</text>
<text x="430.36" y="382.86" font-size="5.2" fill="#c44e4e" text-anchor="middle" >G</text>
<text x="434.32" y="382.86" font-size="5.2" fill="#c44e4e" text-anchor="middle" >C</text>
<text x="438.29" y="382.86" font-size="5.2" fill="#c44e4e" text-anchor="middle" >T</text>
<text x="442.25" y="382.86" font-size="5.2" fill="#c44e4e" text-anchor="middle" >C</text>
<text x="446.21" y="382.86" font-size="5.2" fill="#c44e4e" text-anchor="middle" >C</text>
<text x="450.18" y="382.86" font-size="5.2" fill="#c44e4e" text-anchor="middle" >C</text>
<text x="454.14" y="382.86" font-size="5.2" fill="#c44e4e" text-anchor="middle" >A</text>
<text x="458.1" y="382.86" font-size="5.2" fill="#c44e4e" text-anchor="middle" >C</text>
<text x="462.07" y="382.86" font-size="5.2" fill="#c44e4e" text-anchor="middle" >C</text>
<text x="466.03" y="382.86" font-size="5.2" fill="#c44e4e" text-anchor="middle" >C</text>
<text x="469.99" y="382.86" font-size="5.2" fill="#c44e4e" text-anchor="middle" >C</text>
<text x="473.95" y="382.86" font-size="5.2" fill="#c44e4e" text-anchor="middle" >G</text>
<text x="477.92" y="382.86" font-size="5.2" fill="#c44e4e" text-anchor="middle" >G</text>
<text x="481.88" y="382.86" font-size="5.2" fill="#c44e4e" text-anchor="middle" >C</text>
<text x="485.84" y="382.86" font-size="5.2" fill="#c44e4e" text-anchor="middle" >C</text>
<text x="192.58" y="392.46" font-size="5.2" fill="#4e4e4e" text-anchor="middle" >C</text>
<text x="196.54" y="392.46" font-size="5.2" fill="#4e4e4e" text-anchor="middle" >T</text>
<text x="200.51" y="392.46" font-size="5.2" fill="#4e4e4e" text-anchor="middle" >T</text>
<text x="204.47" y="392.46" font-size="5.2" fill="#4e4e4e" text-anchor="middle" >G</text>
<text x="208.43" y="392.46" font-size="5.2" fill="#4e4e4e" text-anchor="middle" >T</text>
<text x="212.4" y="392.46" font-size="5.2" fill="#4e4e4e" text-anchor="middle" >G</text>
<line x1="215.56" y1="390.6" x2="217.16" y2="390.6" stroke="#d6aaa2" stroke-width="0.9" />
<line x1="219.52" y1="390.6" x2="221.12" y2="390.6" stroke="#d6aaa2" stroke-width="0.9" />
<line x1="223.49" y1="390.6" x2="225.09" y2="390.6" stroke="#d6aaa2" stroke-width="0.9" />
<line x1="227.45" y1="390.6" x2="229.05" y2="390.6" stroke="#d6aaa2" stroke-width="0.9" />
<line x1="231.41" y1="390.6" x2="233.01" y2="390.6" stroke="#d6aaa2" stroke-width="0.9" />
<line x1="235.37" y1="390.6" x2="236.97" y2="390.6" stroke="#d6aaa2" stroke-width="0.9" />
<line x1="239.34" y1="390.6" x2="240.94" y2="390.6" stroke="#d6aaa2" stroke-width="0.9" />
<line x1="243.3" y1="390.6" x2="244.9" y2="390.6" stroke="#d6aaa2" stroke-width="0.9" />
<line x1="247.26" y1="390.6" x2="248.86" y2="390.6" stroke="#d6aaa2" stroke-width="0.9" />
<line x1="251.23" y1="390.6" x2="252.83" y2="390.6" stroke="#d6aaa2" stroke-width="0.9" />
<line x1="255.19" y1="390.6" x2="256.79" y2="390.6" stroke="#d6aaa2" stroke-width="0.9" />
<line x1="259.15" y1="390.6" x2="260.75" y2="390.6" stroke="#d6aaa2" stroke-width="0.9" />
<line x1="263.12" y1="390.6" x2="264.72" y2="390.6" stroke="#d6aaa2" stroke-width="0.9" />
<line x1="267.08" y1="390.6" x2="268.68" y2="390.6" stroke="#d6aaa2" stroke-width="0.9" />
<line x1="271.04" y1="390.6" x2="272.64" y2="390.6" stroke="#d6aaa2" stroke-width="0.9" />
<line x1="275.0" y1="390.6" x2="276.6" y2="390.6" stroke="#d6aaa2" stroke-width="0.9" />
<line x1="278.97" y1="390.6" x2="280.57" y2="390.6" stroke="#d6aaa2" stroke-width="0.9" />
<line x1="282.93" y1="390.6" x2="284.53" y2="390.6" stroke="#d6aaa2" stroke-width="0.9" />
<line x1="286.89" y1="390.6" x2="288.49" y2="390.6" stroke="#d6aaa2" stroke-width="0.9" />
<line x1="290.86" y1="390.6" x2="292.46" y2="390.6" stroke="#d6aaa2" stroke-width="0.9" />
<line x1="294.82" y1="390.6" x2="296.42" y2="390.6" stroke="#d6aaa2" stroke-width="0.9" />
<line x1="298.78" y1="390.6" x2="300.38" y2="390.6" stroke="#d6aaa2" stroke-width="0.9" />
<line x1="302.75" y1="390.6" x2="304.35" y2="390.6" stroke="#d6aaa2" stroke-width="0.9" />
<line x1="306.71" y1="390.6" x2="308.31" y2="390.6" stroke="#d6aaa2" stroke-width="0.9" />
<line x1="310.67" y1="390.6" x2="312.27" y2="390.6" stroke="#d6aaa2" stroke-width="0.9" />
<line x1="314.63" y1="390.6" x2="316.23" y2="390.6" stroke="#d6aaa2" stroke-width="0.9" />
<line x1="318.6" y1="390.6" x2="320.2" y2="390.6" stroke="#d6aaa2" stroke-width="0.9" />
<line x1="322.56" y1="390.6" x2="324.16" y2="390.6" stroke="#d6aaa2" stroke-width="0.9" />
<line x1="326.52" y1="390.6" x2="328.12" y2="390.6" stroke="#d6aaa2" stroke-width="0.9" />
<line x1="330.49" y1="390.6" x2="332.09" y2="390.6" stroke="#d6aaa2" stroke-width="0.9" />
<line x1="334.45" y1="390.6" x2="336.05" y2="390.6" stroke="#d6aaa2" stroke-width="0.9" />
<line x1="338.41" y1="390.6" x2="340.01" y2="390.6" stroke="#d6aaa2" stroke-width="0.9" />
<line x1="342.38" y1="390.6" x2="343.98" y2="390.6" stroke="#d6aaa2" stroke-width="0.9" />
<line x1="346.34" y1="390.6" x2="347.94" y2="390.6" stroke="#d6aaa2" stroke-width="0.9" />
<line x1="350.3" y1="390.6" x2="351.9" y2="390.6" stroke="#d6aaa2" stroke-width="0.9" />
<line x1="354.26" y1="390.6" x2="355.86" y2="390.6" stroke="#d6aaa2" stroke-width="0.9" />
<line x1="358.23" y1="390.6" x2="359.83" y2="390.6" stroke="#d6aaa2" stroke-width="0.9" />
<line x1="362.19" y1="390.6" x2="363.79" y2="390.6" stroke="#d6aaa2" stroke-width="0.9" />
<line x1="366.15" y1="390.6" x2="367.75" y2="390.6" stroke="#d6aaa2" stroke-width="0.9" />
<line x1="370.12" y1="390.6" x2="371.72" y2="390.6" stroke="#d6aaa2" stroke-width="0.9" />
<line x1="374.08" y1="390.6" x2="375.68" y2="390.6" stroke="#d6aaa2" stroke-width="0.9" />
<line x1="378.04" y1="390.6" x2="379.64" y2="390.6" stroke="#d6aaa2" stroke-width="0.9" />
<line x1="382.01" y1="390.6" x2="383.61" y2="390.6" stroke="#d6aaa2" stroke-width="0.9" />
<line x1="385.97" y1="390.6" x2="387.57" y2="390.6" stroke="#d6aaa2" stroke-width="0.9" />
<line x1="389.93" y1="390.6" x2="391.53" y2="390.6" stroke="#d6aaa2" stroke-width="0.9" />
<line x1="393.89" y1="390.6" x2="395.49" y2="390.6" stroke="#d6aaa2" stroke-width="0.9" />
<line x1="397.86" y1="390.6" x2="399.46" y2="390.6" stroke="#d6aaa2" stroke-width="0.9" />
<line x1="401.82" y1="390.6" x2="403.42" y2="390.6" stroke="#d6aaa2" stroke-width="0.9" />
<line x1="405.78" y1="390.6" x2="407.38" y2="390.6" stroke="#d6aaa2" stroke-width="0.9" />
<line x1="409.75" y1="390.6" x2="411.35" y2="390.6" stroke="#d6aaa2" stroke-width="0.9" />
<line x1="413.71" y1="390.6" x2="415.31" y2="390.6" stroke="#d6aaa2" stroke-width="0.9" />
<line x1="417.67" y1="390.6" x2="419.27" y2="390.6" stroke="#d6aaa2" stroke-width="0.9" />
<line x1="421.64" y1="390.6" x2="423.24" y2="390.6" stroke="#d6aaa2" stroke-width="0.9" />
<line x1="425.6" y1="390.6" x2="427.2" y2="390.6" stroke="#d6aaa2" stroke-width="0.9" />
<line x1="429.56" y1="390.6" x2="431.16" y2="390.6" stroke="#d6aaa2" stroke-width="0.9" />
<line x1="433.52" y1="390.6" x2="435.12" y2="390.6" stroke="#d6aaa2" stroke-width="0.9" />
<line x1="437.49" y1="390.6" x2="439.09" y2="390.6" stroke="#d6aaa2" stroke-width="0.9" />
<line x1="441.45" y1="390.6" x2="443.05" y2="390.6" stroke="#d6aaa2" stroke-width="0.9" />
<line x1="445.41" y1="390.6" x2="447.01" y2="390.6" stroke="#d6aaa2" stroke-width="0.9" />
<line x1="449.38" y1="390.6" x2="450.98" y2="390.6" stroke="#d6aaa2" stroke-width="0.9" />
<line x1="453.34" y1="390.6" x2="454.94" y2="390.6" stroke="#d6aaa2" stroke-width="0.9" />
<line x1="457.3" y1="390.6" x2="458.9" y2="390.6" stroke="#d6aaa2" stroke-width="0.9" />
<line x1="461.27" y1="390.6" x2="462.87" y2="390.6" stroke="#d6aaa2" stroke-width="0.9" />
<line x1="465.23" y1="390.6" x2="466.83" y2="390.6" stroke="#d6aaa2" stroke-width="0.9" />
<line x1="469.19" y1="390.6" x2="470.79" y2="390.6" stroke="#d6aaa2" stroke-width="0.9" />
<line x1="473.15" y1="390.6" x2="474.75" y2="390.6" stroke="#d6aaa2" stroke-width="0.9" />
<line x1="477.12" y1="390.6" x2="478.72" y2="390.6" stroke="#d6aaa2" stroke-width="0.9" />
<line x1="481.08" y1="390.6" x2="482.68" y2="390.6" stroke="#d6aaa2" stroke-width="0.9" />
<line x1="485.04" y1="390.6" x2="486.64" y2="390.6" stroke="#d6aaa2" stroke-width="0.9" />
<text x="192.58" y="405.86" font-size="5.2" fill="#c44e4e" text-anchor="middle" >C</text>
<text x="196.54" y="405.86" font-size="5.2" fill="#c44e4e" text-anchor="middle" >T</text>
<text x="200.51" y="405.86" font-size="5.2" fill="#c44e4e" text-anchor="middle" >G</text>
<text x="204.47" y="405.86" font-size="5.2" fill="#c44e4e" text-anchor="middle" >C</text>
<text x="208.43" y="405.86" font-size="5.2" fill="#c44e4e" text-anchor="middle" >C</text>
<text x="212.4" y="405.86" font-size="5.2" fill="#c44e4e" text-anchor="middle" >T</text>
<text x="216.36" y="405.86" font-size="5.2" fill="#c44e4e" text-anchor="middle" >A</text>
<text x="220.32" y="405.86" font-size="5.2" fill="#c44e4e" text-anchor="middle" >T</text>
<text x="224.29" y="405.86" font-size="5.2" fill="#c44e4e" text-anchor="middle" >G</text>
<text x="228.25" y="405.86" font-size="5.2" fill="#c44e4e" text-anchor="middle" >C</text>
<text x="232.21" y="405.86" font-size="5.2" fill="#c44e4e" text-anchor="middle" >C</text>
<text x="236.17" y="405.86" font-size="5.2" fill="#c44e4e" text-anchor="middle" >T</text>
<text x="240.14" y="405.86" font-size="5.2" fill="#c44e4e" text-anchor="middle" >A</text>
<text x="244.1" y="405.86" font-size="5.2" fill="#c44e4e" text-anchor="middle" >A</text>
<text x="248.06" y="405.86" font-size="5.2" fill="#c44e4e" text-anchor="middle" >G</text>
<text x="252.03" y="405.86" font-size="5.2" fill="#c44e4e" text-anchor="middle" >G</text>
<text x="255.99" y="405.86" font-size="5.2" fill="#c44e4e" text-anchor="middle" >A</text>
<text x="259.95" y="405.86" font-size="5.2" fill="#c44e4e" text-anchor="middle" >G</text>
<text x="263.92" y="405.86" font-size="5.2" fill="#c44e4e" text-anchor="middle" >G</text>
<text x="267.88" y="405.86" font-size="5.2" fill="#c44e4e" text-anchor="middle" >A</text>
<text x="271.84" y="405.86" font-size="5.2" fill="#c44e4e" text-anchor="middle" >T</text>
<text x="275.8" y="405.86" font-size="5.2" fill="#c44e4e" text-anchor="middle" >G</text>
<text x="279.77" y="405.86" font-size="5.2" fill="#c44e4e" text-anchor="middle" >C</text>
<text x="283.73" y="405.86" font-size="5.2" fill="#c44e4e" text-anchor="middle" >G</text>
<text x="287.69" y="405.86" font-size="5.2" fill="#c44e4e" text-anchor="middle" >C</text>
<text x="291.66" y="405.86" font-size="5.2" fill="#c44e4e" text-anchor="middle" >C</text>
<text x="295.62" y="405.86" font-size="5.2" fill="#c44e4e" text-anchor="middle" >T</text>
<text x="299.58" y="405.86" font-size="5.2" fill="#c44e4e" text-anchor="middle" >A</text>
<text x="303.55" y="405.86" font-size="5.2" fill="#c44e4e" text-anchor="middle" >G</text>
<text x="307.51" y="405.86" font-size="5.2" fill="#c44e4e" text-anchor="middle" >T</text>
<text x="311.47" y="405.86" font-size="5.2" fill="#c44e4e" text-anchor="middle" >G</text>
<text x="315.43" y="405.86" font-size="5.2" fill="#c44e4e" text-anchor="middle" >A</text>
<text x="319.4" y="405.86" font-size="5.2" fill="#c44e4e" text-anchor="middle" >C</text>
<text x="323.36" y="405.86" font-size="5.2" fill="#c44e4e" text-anchor="middle" >C</text>
<text x="327.32" y="405.86" font-size="5.2" fill="#c44e4e" text-anchor="middle" >C</text>
<text x="331.29" y="405.86" font-size="5.2" fill="#c44e4e" text-anchor="middle" >A</text>
<text x="335.25" y="405.86" font-size="5.2" fill="#c44e4e" text-anchor="middle" >G</text>
<text x="339.21" y="405.86" font-size="5.2" fill="#c44e4e" text-anchor="middle" >C</text>
<text x="343.18" y="405.86" font-size="5.2" fill="#c44e4e" text-anchor="middle" >A</text>
<text x="347.14" y="405.86" font-size="5.2" fill="#c44e4e" text-anchor="middle" >C</text>
<text x="351.1" y="405.86" font-size="5.2" fill="#c44e4e" text-anchor="middle" >T</text>
<text x="355.06" y="405.86" font-size="5.2" fill="#c44e4e" text-anchor="middle" >G</text>
<text x="359.03" y="405.86" font-size="5.2" fill="#c44e4e" text-anchor="middle" >C</text>
<text x="362.99" y="405.86" font-size="5.2" fill="#c44e4e" text-anchor="middle" >C</text>
<text x="366.95" y="405.86" font-size="5.2" fill="#c44e4e" text-anchor="middle" >T</text>
<text x="370.92" y="405.86" font-size="5.2" fill="#c44e4e" text-anchor="middle" >G</text>
<text x="374.88" y="405.86" font-size="5.2" fill="#c44e4e" text-anchor="middle" >C</text>
<text x="378.84" y="405.86" font-size="5.2" fill="#c44e4e" text-anchor="middle" >T</text>
<text x="382.81" y="405.86" font-size="5.2" fill="#c44e4e" text-anchor="middle" >C</text>
<text x="386.77" y="405.86" font-size="5.2" fill="#c44e4e" text-anchor="middle" >C</text>
<text x="390.73" y="405.86" font-size="5.2" fill="#c44e4e" text-anchor="middle" >T</text>
<text x="394.69" y="405.86" font-size="5.2" fill="#c44e4e" text-anchor="middle" >C</text>
<text x="398.66" y="405.86" font-size="5.2" fill="#c44e4e" text-anchor="middle" >C</text>
<text x="402.62" y="405.86" font-size="5.2" fill="#c44e4e" text-anchor="middle" >A</text>
<text x="406.58" y="405.86" font-size="5.2" fill="#c44e4e" text-anchor="middle" >C</text>
<text x="410.55" y="405.86" font-size="5.2" fill="#c44e4e" text-anchor="middle" >C</text>
<text x="414.51" y="405.86" font-size="5.2" fill="#c44e4e" text-anchor="middle" >A</text>
<text x="418.47" y="405.86" font-size="5.2" fill="#c44e4e" text-anchor="middle" >G</text>
<text x="422.44" y="405.86" font-size="5.2" fill="#c44e4e" text-anchor="middle" >C</text>
<text x="426.4" y="405.86" font-size="5.2" fill="#c44e4e" text-anchor="middle" >C</text>
<text x="430.36" y="405.86" font-size="5.2" fill="#c44e4e" text-anchor="middle" >A</text>
<text x="434.32" y="405.86" font-size="5.2" fill="#c44e4e" text-anchor="middle" >C</text>
<text x="438.29" y="405.86" font-size="5.2" fill="#c44e4e" text-anchor="middle" >T</text>
<text x="442.25" y="405.86" font-size="5.2" fill="#c44e4e" text-anchor="middle" >G</text>
<text x="446.21" y="405.86" font-size="5.2" fill="#c44e4e" text-anchor="middle" >C</text>
<text x="450.18" y="405.86" font-size="5.2" fill="#4e4e4e" text-anchor="middle" >T</text>
<text x="454.14" y="405.86" font-size="5.2" fill="#4e4e4e" text-anchor="middle" >G</text>
<text x="458.1" y="405.86" font-size="5.2" fill="#4e4e4e" text-anchor="middle" >T</text>
<text x="462.07" y="405.86" font-size="5.2" fill="#4e4e4e" text-anchor="middle" >A</text>
<text x="466.03" y="405.86" font-size="5.2" fill="#4e4e4e" text-anchor="middle" >C</text>
<text x="469.99" y="405.86" font-size="5.2" fill="#4e4e4e" text-anchor="middle" >A</text>
<text x="473.95" y="405.86" font-size="5.2" fill="#4e4e4e" text-anchor="middle" >C</text>
<text x="477.92" y="405.86" font-size="5.2" fill="#4e4e4e" text-anchor="middle" >C</text>
<text x="481.88" y="405.86" font-size="5.2" fill="#4e4e4e" text-anchor="middle" >T</text>
<text x="485.84" y="405.86" font-size="5.2" fill="#4e4e4e" text-anchor="middle" >A</text>
<line x1="191.78" y1="413.3" x2="193.38" y2="413.3" stroke="#d6aaa2" stroke-width="0.9" />
<line x1="195.74" y1="413.3" x2="197.34" y2="413.3" stroke="#d6aaa2" stroke-width="0.9" />
<line x1="199.71" y1="413.3" x2="201.31" y2="413.3" stroke="#d6aaa2" stroke-width="0.9" />
<line x1="203.67" y1="413.3" x2="205.27" y2="413.3" stroke="#d6aaa2" stroke-width="0.9" />
<line x1="207.63" y1="413.3" x2="209.23" y2="413.3" stroke="#d6aaa2" stroke-width="0.9" />
<line x1="211.6" y1="413.3" x2="213.2" y2="413.3" stroke="#d6aaa2" stroke-width="0.9" />
<line x1="215.56" y1="413.3" x2="217.16" y2="413.3" stroke="#d6aaa2" stroke-width="0.9" />
<line x1="219.52" y1="413.3" x2="221.12" y2="413.3" stroke="#d6aaa2" stroke-width="0.9" />
<line x1="223.49" y1="413.3" x2="225.09" y2="413.3" stroke="#d6aaa2" stroke-width="0.9" />
<line x1="227.45" y1="413.3" x2="229.05" y2="413.3" stroke="#d6aaa2" stroke-width="0.9" />
<line x1="231.41" y1="413.3" x2="233.01" y2="413.3" stroke="#d6aaa2" stroke-width="0.9" />
<line x1="235.37" y1="413.3" x2="236.97" y2="413.3" stroke="#d6aaa2" stroke-width="0.9" />
<line x1="239.34" y1="413.3" x2="240.94" y2="413.3" stroke="#d6aaa2" stroke-width="0.9" />
<line x1="243.3" y1="413.3" x2="244.9" y2="413.3" stroke="#d6aaa2" stroke-width="0.9" />
<line x1="247.26" y1="413.3" x2="248.86" y2="413.3" stroke="#d6aaa2" stroke-width="0.9" />
<line x1="251.23" y1="413.3" x2="252.83" y2="413.3" stroke="#d6aaa2" stroke-width="0.9" />
<line x1="255.19" y1="413.3" x2="256.79" y2="413.3" stroke="#d6aaa2" stroke-width="0.9" />
<line x1="259.15" y1="413.3" x2="260.75" y2="413.3" stroke="#d6aaa2" stroke-width="0.9" />
<line x1="263.12" y1="413.3" x2="264.72" y2="413.3" stroke="#d6aaa2" stroke-width="0.9" />
<line x1="267.08" y1="413.3" x2="268.68" y2="413.3" stroke="#d6aaa2" stroke-width="0.9" />
<line x1="271.04" y1="413.3" x2="272.64" y2="413.3" stroke="#d6aaa2" stroke-width="0.9" />
<line x1="275.0" y1="413.3" x2="276.6" y2="413.3" stroke="#d6aaa2" stroke-width="0.9" />
<line x1="278.97" y1="413.3" x2="280.57" y2="413.3" stroke="#d6aaa2" stroke-width="0.9" />
<line x1="282.93" y1="413.3" x2="284.53" y2="413.3" stroke="#d6aaa2" stroke-width="0.9" />
<line x1="286.89" y1="413.3" x2="288.49" y2="413.3" stroke="#d6aaa2" stroke-width="0.9" />
<line x1="290.86" y1="413.3" x2="292.46" y2="413.3" stroke="#d6aaa2" stroke-width="0.9" />
<line x1="294.82" y1="413.3" x2="296.42" y2="413.3" stroke="#d6aaa2" stroke-width="0.9" />
<line x1="298.78" y1="413.3" x2="300.38" y2="413.3" stroke="#d6aaa2" stroke-width="0.9" />
<line x1="302.75" y1="413.3" x2="304.35" y2="413.3" stroke="#d6aaa2" stroke-width="0.9" />
<line x1="306.71" y1="413.3" x2="308.31" y2="413.3" stroke="#d6aaa2" stroke-width="0.9" />
<line x1="310.67" y1="413.3" x2="312.27" y2="413.3" stroke="#d6aaa2" stroke-width="0.9" />
<line x1="314.63" y1="413.3" x2="316.23" y2="413.3" stroke="#d6aaa2" stroke-width="0.9" />
<line x1="318.6" y1="413.3" x2="320.2" y2="413.3" stroke="#d6aaa2" stroke-width="0.9" />
<line x1="322.56" y1="413.3" x2="324.16" y2="413.3" stroke="#d6aaa2" stroke-width="0.9" />
<line x1="326.52" y1="413.3" x2="328.12" y2="413.3" stroke="#d6aaa2" stroke-width="0.9" />
<line x1="330.49" y1="413.3" x2="332.09" y2="413.3" stroke="#d6aaa2" stroke-width="0.9" />
<line x1="334.45" y1="413.3" x2="336.05" y2="413.3" stroke="#d6aaa2" stroke-width="0.9" />
<line x1="338.41" y1="413.3" x2="340.01" y2="413.3" stroke="#d6aaa2" stroke-width="0.9" />
<line x1="342.38" y1="413.3" x2="343.98" y2="413.3" stroke="#d6aaa2" stroke-width="0.9" />
<line x1="346.34" y1="413.3" x2="347.94" y2="413.3" stroke="#d6aaa2" stroke-width="0.9" />
<line x1="350.3" y1="413.3" x2="351.9" y2="413.3" stroke="#d6aaa2" stroke-width="0.9" />
<line x1="354.26" y1="413.3" x2="355.86" y2="413.3" stroke="#d6aaa2" stroke-width="0.9" />
<line x1="358.23" y1="413.3" x2="359.83" y2="413.3" stroke="#d6aaa2" stroke-width="0.9" />
<line x1="362.19" y1="413.3" x2="363.79" y2="413.3" stroke="#d6aaa2" stroke-width="0.9" />
<line x1="366.15" y1="413.3" x2="367.75" y2="413.3" stroke="#d6aaa2" stroke-width="0.9" />
<line x1="370.12" y1="413.3" x2="371.72" y2="413.3" stroke="#d6aaa2" stroke-width="0.9" />
<line x1="374.08" y1="413.3" x2="375.68" y2="413.3" stroke="#d6aaa2" stroke-width="0.9" />
<line x1="378.04" y1="413.3" x2="379.64" y2="413.3" stroke="#d6aaa2" stroke-width="0.9" />
<line x1="382.01" y1="413.3" x2="383.61" y2="413.3" stroke="#d6aaa2" stroke-width="0.9" />
<line x1="385.97" y1="413.3" x2="387.57" y2="413.3" stroke="#d6aaa2" stroke-width="0.9" />
<line x1="389.93" y1="413.3" x2="391.53" y2="413.3" stroke="#d6aaa2" stroke-width="0.9" />
<line x1="393.89" y1="413.3" x2="395.49" y2="413.3" stroke="#d6aaa2" stroke-width="0.9" />
<line x1="397.86" y1="413.3" x2="399.46" y2="413.3" stroke="#d6aaa2" stroke-width="0.9" />
<line x1="401.82" y1="413.3" x2="403.42" y2="413.3" stroke="#d6aaa2" stroke-width="0.9" />
<line x1="405.78" y1="413.3" x2="407.38" y2="413.3" stroke="#d6aaa2" stroke-width="0.9" />
<line x1="409.75" y1="413.3" x2="411.35" y2="413.3" stroke="#d6aaa2" stroke-width="0.9" />
<line x1="413.71" y1="413.3" x2="415.31" y2="413.3" stroke="#d6aaa2" stroke-width="0.9" />
<line x1="417.67" y1="413.3" x2="419.27" y2="413.3" stroke="#d6aaa2" stroke-width="0.9" />
<line x1="421.64" y1="413.3" x2="423.24" y2="413.3" stroke="#d6aaa2" stroke-width="0.9" />
<line x1="425.6" y1="413.3" x2="427.2" y2="413.3" stroke="#d6aaa2" stroke-width="0.9" />
<line x1="429.56" y1="413.3" x2="431.16" y2="413.3" stroke="#d6aaa2" stroke-width="0.9" />
<line x1="433.52" y1="413.3" x2="435.12" y2="413.3" stroke="#d6aaa2" stroke-width="0.9" />
<line x1="437.49" y1="413.3" x2="439.09" y2="413.3" stroke="#d6aaa2" stroke-width="0.9" />
<line x1="441.45" y1="413.3" x2="443.05" y2="413.3" stroke="#d6aaa2" stroke-width="0.9" />
<line x1="445.41" y1="413.3" x2="447.01" y2="413.3" stroke="#d6aaa2" stroke-width="0.9" />
<text x="450.18" y="415.16" font-size="5.2" fill="#4e4e4e" text-anchor="middle" >T</text>
<text x="454.14" y="415.16" font-size="5.2" fill="#4e4e4e" text-anchor="middle" >G</text>
<text x="458.1" y="415.16" font-size="5.2" fill="#4e4e4e" text-anchor="middle" >T</text>
<text x="462.07" y="415.16" font-size="5.2" fill="#4e4e4e" text-anchor="middle" >A</text>
<text x="466.03" y="415.16" font-size="5.2" fill="#4e4e4e" text-anchor="middle" >C</text>
<text x="469.99" y="415.16" font-size="5.2" fill="#4e4e4e" text-anchor="middle" >A</text>
<text x="473.95" y="415.16" font-size="5.2" fill="#4e4e4e" text-anchor="middle" >C</text>
<text x="477.92" y="415.16" font-size="5.2" fill="#4e4e4e" text-anchor="middle" >C</text>
<text x="481.88" y="415.16" font-size="5.2" fill="#4e4e4e" text-anchor="middle" >T</text>
<text x="485.84" y="415.16" font-size="5.2" fill="#4e4e4e" text-anchor="middle" >A</text>
<line x1="489.6" y1="379.6" x2="489.6" y2="390.2" stroke="#222" stroke-width="1.0" />
<line x1="489.6" y1="403.7" x2="489.6" y2="415.2" stroke="#222" stroke-width="1.0" />
<text x="492.7" y="387.43" font-size="6.8" fill="#303030" textLength="6.96" lengthAdjust="spacingAndGlyphs" >75</text>
<text x="493.0" y="410.33" font-size="6.8" fill="#303030" textLength="10.44" lengthAdjust="spacingAndGlyphs" >150</text>
<text x="7.6" y="458.80" font-size="12.3" fill="#000" font-weight="bold" stroke="#000" stroke-width="0.35">I</text>
<line x1="40.5" y1="467.0" x2="40.5" y2="564.5" stroke="#1e1e1e" stroke-width="1.0" />
<line x1="37.5" y1="561.5" x2="40.5" y2="561.5" stroke="#1e1e1e" stroke-width="1.0" />
<text x="34.6" y="563.60" font-size="6.7" fill="#303030" text-anchor="end" textLength="3.5" lengthAdjust="spacingAndGlyphs" >0</text>
<line x1="37.5" y1="538.5" x2="40.5" y2="538.5" stroke="#1e1e1e" stroke-width="1.0" />
<text x="34.6" y="540.60" font-size="6.7" fill="#303030" text-anchor="end" textLength="3.5" lengthAdjust="spacingAndGlyphs" >5</text>
<line x1="37.5" y1="515.5" x2="40.5" y2="515.5" stroke="#1e1e1e" stroke-width="1.0" />
<text x="34.6" y="517.60" font-size="6.7" fill="#303030" text-anchor="end" textLength="7.0" lengthAdjust="spacingAndGlyphs" >10</text>
<line x1="37.5" y1="491.5" x2="40.5" y2="491.5" stroke="#1e1e1e" stroke-width="1.0" />
<text x="34.6" y="493.60" font-size="6.7" fill="#303030" text-anchor="end" textLength="7.0" lengthAdjust="spacingAndGlyphs" >15</text>
<line x1="37.5" y1="468.5" x2="40.5" y2="468.5" stroke="#1e1e1e" stroke-width="1.0" />
<text x="34.6" y="470.60" font-size="6.7" fill="#303030" text-anchor="end" textLength="7.0" lengthAdjust="spacingAndGlyphs" >20</text>
<line x1="37.5" y1="561.5" x2="182.5" y2="561.5" stroke="#1e1e1e" stroke-width="1.0" />
<line x1="68.5" y1="561.5" x2="68.5" y2="564.5" stroke="#1e1e1e" stroke-width="1" />
<line x1="96.5" y1="561.5" x2="96.5" y2="564.5" stroke="#1e1e1e" stroke-width="1" />
<line x1="124.5" y1="561.5" x2="124.5" y2="564.5" stroke="#1e1e1e" stroke-width="1" />
<line x1="152.5" y1="561.5" x2="152.5" y2="564.5" stroke="#1e1e1e" stroke-width="1" />
<line x1="180.5" y1="561.5" x2="180.5" y2="564.5" stroke="#1e1e1e" stroke-width="1" />
<text x="40.5" y="573.40" font-size="6.7" fill="#303030" text-anchor="middle" textLength="3.5" lengthAdjust="spacingAndGlyphs" >0</text>
<text x="68.4" y="573.40" font-size="6.7" fill="#303030" text-anchor="middle" textLength="3.5" lengthAdjust="spacingAndGlyphs" >1</text>
<text x="96.3" y="573.40" font-size="6.7" fill="#303030" text-anchor="middle" textLength="3.5" lengthAdjust="spacingAndGlyphs" >2</text>
<text x="124.2" y="573.40" font-size="6.7" fill="#303030" text-anchor="middle" textLength="3.5" lengthAdjust="spacingAndGlyphs" >3</text>
<text x="152.1" y="573.40" font-size="6.7" fill="#303030" text-anchor="middle" textLength="3.5" lengthAdjust="spacingAndGlyphs" >4</text>
<text x="180.0" y="573.40" font-size="6.7" fill="#303030" text-anchor="middle" textLength="3.5" lengthAdjust="spacingAndGlyphs" >5</text>
<text x="111.5" y="586.34" font-size="8.5" fill="#303030" text-anchor="middle" textLength="58.5" lengthAdjust="spacingAndGlyphs" >Days of cell culture</text>
<text transform="translate(19.0,513.7) rotate(-90)" x="0" y="3.04" font-size="8.5" fill="#303030" text-anchor="middle" textLength="75.6" lengthAdjust="spacingAndGlyphs" >Normalized cell number</text>
<polyline points="40.50,556.86 68.40,553.61 96.30,548.51 124.20,542.01 152.10,527.16" fill="none" stroke="#4caf50" stroke-width="1.2" stroke-linejoin="round"/>
<line x1="152.1" y1="521.36" x2="152.1" y2="532.96" stroke="#4caf50" stroke-width="0.9" />
<line x1="150.5" y1="521.36" x2="153.7" y2="521.36" stroke="#4caf50" stroke-width="0.9" />
<line x1="150.5" y1="532.96" x2="153.7" y2="532.96" stroke="#4caf50" stroke-width="0.9" />
<rect x="38.61" y="554.97" width="3.78" height="3.78" fill="#4caf50" />
<rect x="66.51" y="551.72" width="3.78" height="3.78" fill="#4caf50" />
<rect x="94.41" y="546.62" width="3.78" height="3.78" fill="#4caf50" />
<rect x="122.31" y="540.12" width="3.78" height="3.78" fill="#4caf50" />
<rect x="150.21" y="525.27" width="3.78" height="3.78" fill="#4caf50" />
<polyline points="40.50,556.86 68.40,552.68 96.30,545.72 124.20,536.44 152.10,514.17" fill="none" stroke="#a3a3d8" stroke-width="1.2" stroke-linejoin="round"/>
<line x1="152.1" y1="509.76" x2="152.1" y2="518.58" stroke="#a3a3d8" stroke-width="0.9" />
<line x1="150.5" y1="509.76" x2="153.7" y2="509.76" stroke="#a3a3d8" stroke-width="0.9" />
<line x1="150.5" y1="518.58" x2="153.7" y2="518.58" stroke="#a3a3d8" stroke-width="0.9" />
<polygon points="38.09,555.05 42.91,555.05 40.50,559.27" fill="#a3a3d8"/>
<polygon points="65.98,550.87 70.82,550.87 68.40,555.10" fill="#a3a3d8"/>
<polygon points="93.88,543.91 98.72,543.91 96.30,548.14" fill="#a3a3d8"/>
<polygon points="121.78,534.63 126.61,534.63 124.20,538.86" fill="#a3a3d8"/>
<polygon points="149.69,512.36 154.51,512.36 152.10,516.59" fill="#a3a3d8"/>
<polyline points="40.50,556.86 68.40,552.22 96.30,543.40 124.20,523.45 152.10,487.26" fill="none" stroke="#b3173a" stroke-width="1.2" stroke-linejoin="round"/>
<line x1="152.1" y1="482.62" x2="152.1" y2="491.9" stroke="#b3173a" stroke-width="0.9" />
<line x1="150.5" y1="482.62" x2="153.7" y2="482.62" stroke="#b3173a" stroke-width="0.9" />
<line x1="150.5" y1="491.9" x2="153.7" y2="491.9" stroke="#b3173a" stroke-width="0.9" />
<polygon points="38.09,558.67 42.91,558.67 40.50,554.45" fill="#b3173a"/>
<polygon points="65.98,554.03 70.82,554.03 68.40,549.81" fill="#b3173a"/>
<polygon points="93.88,545.22 98.72,545.22 96.30,540.99" fill="#b3173a"/>
<polygon points="121.78,525.26 126.61,525.26 124.20,521.04" fill="#b3173a"/>
<polygon points="149.69,489.07 154.51,489.07 152.10,484.84" fill="#b3173a"/>
<polyline points="40.50,556.86 68.40,551.76 96.30,540.62 124.20,521.60 152.10,490.51" fill="none" stroke="#1f3d6d" stroke-width="1.2" stroke-linejoin="round"/>
<line x1="152.1" y1="486.1" x2="152.1" y2="494.92" stroke="#1f3d6d" stroke-width="0.9" />
<line x1="150.5" y1="486.1" x2="153.7" y2="486.1" stroke="#1f3d6d" stroke-width="0.9" />
<line x1="150.5" y1="494.92" x2="153.7" y2="494.92" stroke="#1f3d6d" stroke-width="0.9" />
<circle cx="40.50" cy="556.86" r="1.9949999999999999" fill="#1f3d6d"/>
<circle cx="68.40" cy="551.76" r="1.9949999999999999" fill="#1f3d6d"/>
<circle cx="96.30" cy="540.62" r="1.9949999999999999" fill="#1f3d6d"/>
<circle cx="124.20" cy="521.60" r="1.9949999999999999" fill="#1f3d6d"/>
<circle cx="152.10" cy="490.51" r="1.9949999999999999" fill="#1f3d6d"/>
<line x1="44.0" y1="472.4" x2="54.1" y2="472.4" stroke="#1f3d6d" stroke-width="1.0" />
<circle cx="49.20" cy="472.40" r="1.805" fill="#1f3d6d"/>
<text x="57.3" y="474.76" font-size="6.6" fill="#303030" textLength="22.4" lengthAdjust="spacingAndGlyphs" >CB-iEry</text>
<line x1="44.0" y1="483.04999999999995" x2="54.1" y2="483.04999999999995" stroke="#4caf50" stroke-width="1.0" />
<rect x="47.49" y="481.34" width="3.42" height="3.42" fill="#4caf50" />
<text x="57.3" y="485.41" font-size="6.6" fill="#303030" textLength="41.9" lengthAdjust="spacingAndGlyphs" >CB-iEry+IFNα</text>
<line x1="44.0" y1="493.7" x2="54.1" y2="493.7" stroke="#b3173a" stroke-width="1.0" />
<polygon points="47.02,495.34 51.39,495.34 49.20,491.51" fill="#b3173a"/>
<text x="57.3" y="496.06" font-size="6.6" fill="#303030" textLength="26.5" lengthAdjust="spacingAndGlyphs" ><tspan font-style="italic">CISH</tspan> KO</text>
<line x1="44.0" y1="504.34999999999997" x2="54.1" y2="504.34999999999997" stroke="#a3a3d8" stroke-width="1.0" />
<polygon points="47.02,502.71 51.39,502.71 49.20,506.53" fill="#a3a3d8"/>
<text x="57.3" y="506.71" font-size="6.6" fill="#303030" textLength="46.0" lengthAdjust="spacingAndGlyphs" ><tspan font-style="italic">CISH</tspan> KO+IFNα</text>
<path d="M156.2,486.6 H161.3 V513.3 H156.2" fill="none" stroke="#3c3c3c" stroke-width="1.1"/>
<path d="M156.2,515.7 H161.3 V527.2 H156.2" fill="none" stroke="#3c3c3c" stroke-width="1.1"/>
<path d="M169.3,490.5 H174.4 V527.2 H169.3" fill="none" stroke="#3c3c3c" stroke-width="1.1"/>
<circle cx="164.40" cy="496.95" r="0.85" fill="#333"/>
<circle cx="164.40" cy="500.00" r="0.85" fill="#333"/>
<circle cx="164.40" cy="503.05" r="0.85" fill="#333"/>
<circle cx="164.40" cy="521.50" r="0.85" fill="#333"/>
<circle cx="177.80" cy="506.05" r="0.85" fill="#333"/>
<circle cx="177.80" cy="509.00" r="0.85" fill="#333"/>
<circle cx="177.80" cy="511.95" r="0.85" fill="#333"/>
<text x="199.2" y="458.80" font-size="12.3" fill="#000" font-weight="bold" stroke="#000" stroke-width="0.35">J</text>
<text x="258.0" y="501.51" font-size="7.0" fill="#303030" text-anchor="end" textLength="49.3" lengthAdjust="spacingAndGlyphs" >IFNα (500 U/mL)</text>
<text x="258.0" y="510.21" font-size="7.0" fill="#303030" text-anchor="end" textLength="40.2" lengthAdjust="spacingAndGlyphs" >EPO (5 U/mL)</text>
<text x="255.0" y="522.41" font-size="7.0" fill="#303030" text-anchor="end" textLength="22.2" lengthAdjust="spacingAndGlyphs" >pSTAT5</text>
<text x="255.0" y="537.71" font-size="7.0" fill="#303030" text-anchor="end" textLength="18.4" lengthAdjust="spacingAndGlyphs" >STAT5</text>
<text x="284.3" y="490.85" font-size="7.4" fill="#303030" text-anchor="middle" textLength="23.6" lengthAdjust="spacingAndGlyphs" >CB-iEry</text>
<text x="333.3" y="490.85" font-size="7.4" fill="#303030" text-anchor="middle" textLength="27.0" lengthAdjust="spacingAndGlyphs" >CISH KO</text>
<line x1="263.0" y1="493.5" x2="305.3" y2="493.5" stroke="#2a2a2a" stroke-width="1.0" />
<line x1="312.1" y1="493.5" x2="354.4" y2="493.5" stroke="#2a2a2a" stroke-width="1.0" />
<line x1="266.8" y1="499.2" x2="269.40000000000003" y2="499.2" stroke="#444" stroke-width="0.85" />
<line x1="266.8" y1="508.3" x2="269.40000000000003" y2="508.3" stroke="#444" stroke-width="0.85" />
<line x1="283.3" y1="499.2" x2="285.90000000000003" y2="499.2" stroke="#444" stroke-width="0.85" />
<line x1="283.3" y1="508.3" x2="285.90000000000003" y2="508.3" stroke="#444" stroke-width="0.85" />
<line x1="284.6" y1="507.0" x2="284.6" y2="509.6" stroke="#444" stroke-width="0.85" />
<line x1="299.2" y1="499.2" x2="301.8" y2="499.2" stroke="#444" stroke-width="0.85" />
<line x1="300.5" y1="497.9" x2="300.5" y2="500.5" stroke="#444" stroke-width="0.85" />
<line x1="299.2" y1="508.3" x2="301.8" y2="508.3" stroke="#444" stroke-width="0.85" />
<line x1="300.5" y1="507.0" x2="300.5" y2="509.6" stroke="#444" stroke-width="0.85" />
<line x1="315.0" y1="499.2" x2="317.6" y2="499.2" stroke="#444" stroke-width="0.85" />
<line x1="315.0" y1="508.3" x2="317.6" y2="508.3" stroke="#444" stroke-width="0.85" />
<line x1="330.9" y1="499.2" x2="333.5" y2="499.2" stroke="#444" stroke-width="0.85" />
<line x1="330.9" y1="508.3" x2="333.5" y2="508.3" stroke="#444" stroke-width="0.85" />
<line x1="332.2" y1="507.0" x2="332.2" y2="509.6" stroke="#444" stroke-width="0.85" />
<line x1="347.2" y1="499.2" x2="349.8" y2="499.2" stroke="#444" stroke-width="0.85" />
<line x1="348.5" y1="497.9" x2="348.5" y2="500.5" stroke="#444" stroke-width="0.85" />
<line x1="347.2" y1="508.3" x2="349.8" y2="508.3" stroke="#444" stroke-width="0.85" />
<line x1="348.5" y1="507.0" x2="348.5" y2="509.6" stroke="#444" stroke-width="0.85" />
<rect x="258.6" y="513.6" width="98.6" height="13.3" fill="#f9f9f9" stroke="#6c6c6c" stroke-width="1.1" />
<rect x="258.6" y="529.4" width="98.6" height="12.5" fill="#f9f9f9" stroke="#6c6c6c" stroke-width="1.1" />
<path d="M278.60,520.85 C281.36,519.80 285.04,519.80 287.80,520.92" fill="none" stroke="#8e8e8e" stroke-width="2.3" stroke-linecap="round" filter="url(#bl5)"/>
<path d="M294.60,520.85 C297.24,519.80 300.76,519.80 303.40,520.92" fill="none" stroke="#cacaca" stroke-width="2.0" stroke-linecap="round" filter="url(#bl5)"/>
<path d="M326.40,520.85 C329.40,519.80 333.40,519.80 336.40,520.92" fill="none" stroke="#111" stroke-width="3.4" stroke-linecap="round" filter="url(#bl5)"/>
<path d="M342.40,520.85 C345.52,519.80 349.68,519.80 352.80,520.92" fill="none" stroke="#1c1c1c" stroke-width="3.2" stroke-linecap="round" filter="url(#bl5)"/>
<path d="M262.00,535.65 C265.24,534.30 269.56,534.30 272.80,535.74" fill="none" stroke="#7a7a7a" stroke-width="3.2" stroke-linecap="round" filter="url(#bl5)"/>
<path d="M277.60,535.75 C280.84,534.40 285.16,534.40 288.40,535.84" fill="none" stroke="#6e6e6e" stroke-width="3.2" stroke-linecap="round" filter="url(#bl5)"/>
<path d="M294.00,535.65 C297.24,534.30 301.56,534.30 304.80,535.74" fill="none" stroke="#5a5a5a" stroke-width="3.2" stroke-linecap="round" filter="url(#bl5)"/>
<path d="M309.90,536.25 C313.14,534.90 317.46,534.90 320.70,536.34" fill="none" stroke="#3a3a3a" stroke-width="3.2" stroke-linecap="round" filter="url(#bl5)"/>
<path d="M325.80,535.65 C329.04,534.30 333.36,534.30 336.60,535.74" fill="none" stroke="#505050" stroke-width="3.2" stroke-linecap="round" filter="url(#bl5)"/>
<path d="M342.20,535.85 C345.44,534.50 349.76,534.50 353.00,535.94" fill="none" stroke="#7c7c7c" stroke-width="3.2" stroke-linecap="round" filter="url(#bl5)"/>
<line x1="357.3" y1="517.5" x2="360.6" y2="517.5" stroke="#1e1e1e" stroke-width="1" />
<line x1="357.3" y1="532.6" x2="360.6" y2="532.6" stroke="#1e1e1e" stroke-width="1" />
<text x="364.2" y="519.95" font-size="7.4" fill="#303030" textLength="11.11" lengthAdjust="spacingAndGlyphs" >100</text>
<text x="364.2" y="534.95" font-size="7.4" fill="#303030" textLength="11.11" lengthAdjust="spacingAndGlyphs" >100</text>
<line x1="419.5" y1="467.0" x2="419.5" y2="561.5" stroke="#1e1e1e" stroke-width="1.0" />
<line x1="416.5" y1="561.5" x2="419.5" y2="561.5" stroke="#1e1e1e" stroke-width="1.0" />
<text x="413.3" y="563.60" font-size="6.7" fill="#303030" text-anchor="end" textLength="3.5" lengthAdjust="spacingAndGlyphs" >0</text>
<line x1="416.5" y1="530.5" x2="419.5" y2="530.5" stroke="#1e1e1e" stroke-width="1.0" />
<text x="413.3" y="532.60" font-size="6.7" fill="#303030" text-anchor="end" textLength="9.87" lengthAdjust="spacingAndGlyphs" >0.5</text>
<line x1="416.5" y1="499.5" x2="419.5" y2="499.5" stroke="#1e1e1e" stroke-width="1.0" />
<text x="413.3" y="501.60" font-size="6.7" fill="#303030" text-anchor="end" textLength="9.87" lengthAdjust="spacingAndGlyphs" >1.0</text>
<line x1="416.5" y1="468.5" x2="419.5" y2="468.5" stroke="#1e1e1e" stroke-width="1.0" />
<text x="413.3" y="470.60" font-size="6.7" fill="#303030" text-anchor="end" textLength="9.87" lengthAdjust="spacingAndGlyphs" >1.5</text>
<line x1="416.5" y1="561.5" x2="512.8" y2="561.5" stroke="#1e1e1e" stroke-width="1.0" />
<rect x="426.8" y="499.5" width="10.6" height="62.0" fill="#8f9cc7" />
<circle cx="427.80" cy="499.50" r="1.72" fill="#fff" stroke="#141c3c" stroke-width="1.25"/>
<circle cx="431.90" cy="499.50" r="1.72" fill="#fff" stroke="#141c3c" stroke-width="1.25"/>
<circle cx="436.70" cy="499.50" r="1.72" fill="#fff" stroke="#141c3c" stroke-width="1.25"/>
<rect x="445.3" y="525.23" width="10.6" height="36.27" fill="#8f9cc7" />
<line x1="450.6" y1="525.23" x2="450.6" y2="517.79" stroke="#141c3c" stroke-width="1.1" />
<line x1="448.1" y1="517.79" x2="453.1" y2="517.79" stroke="#141c3c" stroke-width="1.1" />
<circle cx="450.60" cy="511.90" r="1.72" fill="#fff" stroke="#141c3c" stroke-width="1.25"/>
<circle cx="450.60" cy="524.92" r="1.72" fill="#fff" stroke="#141c3c" stroke-width="1.25"/>
<circle cx="450.60" cy="536.70" r="1.72" fill="#fff" stroke="#141c3c" stroke-width="1.25"/>
<rect x="476.5" y="499.5" width="10.6" height="62.0" fill="#e8887c" />
<circle cx="477.10" cy="499.50" r="1.72" fill="#fff" stroke="#3e120e" stroke-width="1.25"/>
<circle cx="481.80" cy="499.50" r="1.72" fill="#fff" stroke="#3e120e" stroke-width="1.25"/>
<circle cx="486.50" cy="499.50" r="1.72" fill="#fff" stroke="#3e120e" stroke-width="1.25"/>
<rect x="494.6" y="501.36" width="10.6" height="60.14" fill="#e8887c" />
<line x1="499.9" y1="501.36" x2="499.9" y2="500.12" stroke="#141c3c" stroke-width="1.1" />
<line x1="497.4" y1="500.12" x2="502.4" y2="500.12" stroke="#141c3c" stroke-width="1.1" />
<circle cx="495.70" cy="503.22" r="1.72" fill="#fff" stroke="#3e120e" stroke-width="1.25"/>
<circle cx="500.30" cy="497.64" r="1.72" fill="#fff" stroke="#3e120e" stroke-width="1.25"/>
<circle cx="504.90" cy="501.98" r="1.72" fill="#fff" stroke="#3e120e" stroke-width="1.25"/>
<line x1="431.5" y1="561.5" x2="431.5" y2="564.1" stroke="#1e1e1e" stroke-width="1" />
<text transform="translate(431.9,571.3) rotate(-45)" font-size="6.9" fill="#303030" text-anchor="end">EPO</text>
<line x1="450.5" y1="561.5" x2="450.5" y2="564.1" stroke="#1e1e1e" stroke-width="1" />
<text transform="translate(450.9,571.3) rotate(-45)" font-size="6.9" fill="#303030" text-anchor="end">EPO+IFNα</text>
<line x1="480.8" y1="561.5" x2="480.8" y2="564.1" stroke="#1e1e1e" stroke-width="1" />
<text transform="translate(481.2,571.3) rotate(-45)" font-size="6.9" fill="#303030" text-anchor="end">EPO</text>
<line x1="499.7" y1="561.5" x2="499.7" y2="564.1" stroke="#1e1e1e" stroke-width="1" />
<text transform="translate(500.09999999999997,571.3) rotate(-45)" font-size="6.9" fill="#303030" text-anchor="end">EPO+IFNα</text>
<rect x="427.5" y="456.2" width="6.0" height="6.0" fill="#8f9cc7" />
<text x="436.8" y="461.41" font-size="7.0" fill="#303030" textLength="21.6" lengthAdjust="spacingAndGlyphs" >CB-iEry</text>
<rect x="469.6" y="456.2" width="6.0" height="6.0" fill="#e8887c" />
<text x="478.6" y="461.41" font-size="7.0" fill="#303030" textLength="26.3" lengthAdjust="spacingAndGlyphs" ><tspan font-style="italic">CISH</tspan> KO</text>
<line x1="431.9" y1="492.1" x2="450.3" y2="492.1" stroke="#4e4e4e" stroke-width="1.35" />
<circle cx="437.90" cy="488.70" r="0.85" fill="#333"/>
<circle cx="441.10" cy="488.70" r="0.85" fill="#333"/>
<circle cx="444.30" cy="488.70" r="0.85" fill="#333"/>
<line x1="481.4" y1="492.1" x2="498.9" y2="492.1" stroke="#4e4e4e" stroke-width="1.25" />
<text x="490.2" y="490.63" font-size="6.8" fill="#303030" text-anchor="middle" textLength="12.17" lengthAdjust="spacingAndGlyphs" >N.S.</text>
<text transform="translate(396.1,514.0) rotate(-90)" x="0" y="2.97" font-size="8.3" fill="#303030" text-anchor="middle" textLength="64" lengthAdjust="spacingAndGlyphs" >Relative pSTAT5 level</text>
</svg>
</body></html>
